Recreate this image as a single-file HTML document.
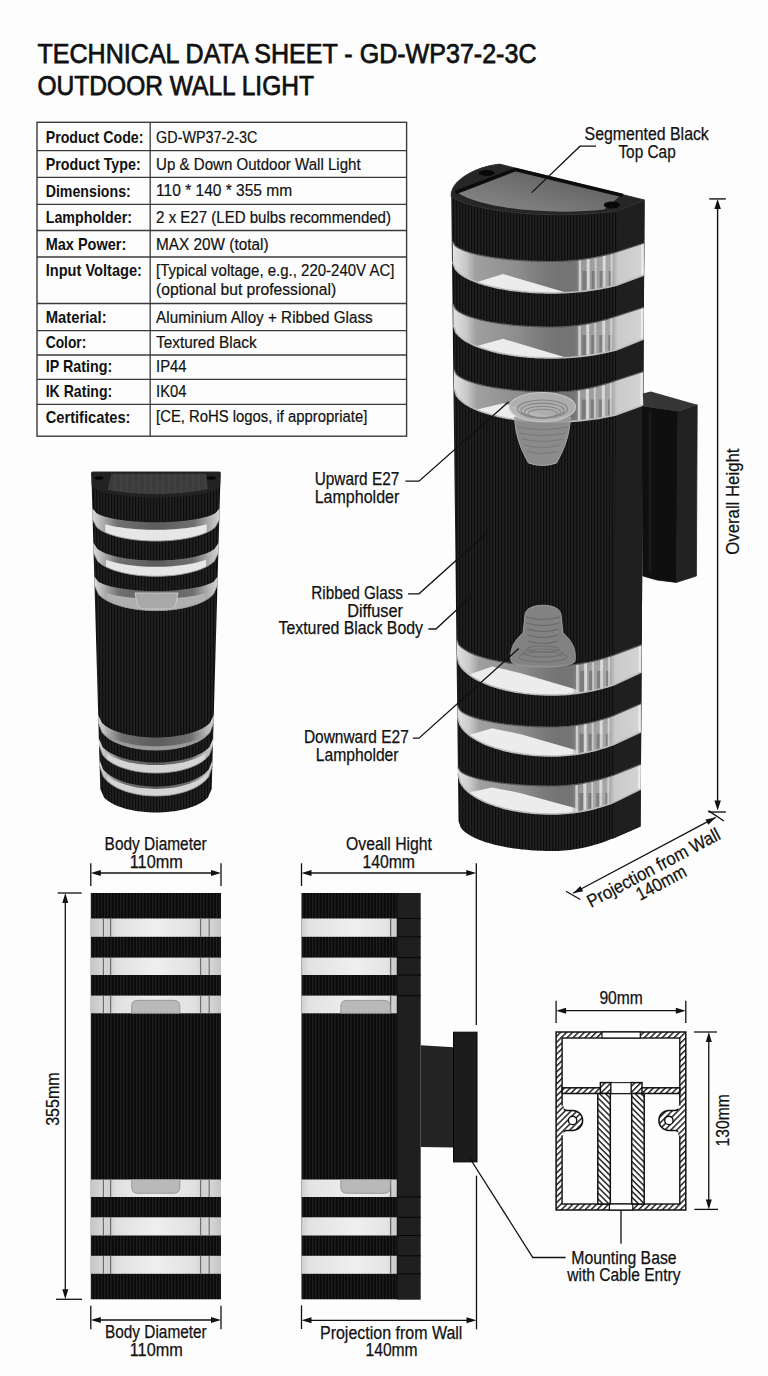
<!DOCTYPE html>
<html><head><meta charset="utf-8"><style>
html,body{margin:0;padding:0;background:#fdfdfd;}
svg{display:block;font-family:"Liberation Sans", sans-serif;}
</style></head><body>
<svg width="768" height="1376" viewBox="0 0 768 1376">
<rect width="768" height="1376" fill="#fdfdfd"/>
<defs>
<pattern id="rib" width="3" height="10" patternUnits="userSpaceOnUse"><rect width="3" height="10" fill="#0e0e0e"/><rect x="1.5" width="1.1" height="10" fill="#2a2a2a"/></pattern>
<pattern id="ribf" width="3.2" height="10" patternUnits="userSpaceOnUse"><rect width="3.2" height="10" fill="#0a0a0a"/><rect x="1.7" width="1" height="10" fill="#232323"/></pattern>
<pattern id="hatch" width="4.2" height="4.2" patternUnits="userSpaceOnUse" patternTransform="rotate(-45)"><rect width="4.2" height="4.2" fill="#fff"/><rect width="4.2" height="1.5" fill="#222"/></pattern>
<pattern id="hatch2" width="4.2" height="4.2" patternUnits="userSpaceOnUse" patternTransform="rotate(45)"><rect width="4.2" height="4.2" fill="#fff"/><rect width="4.2" height="1.5" fill="#222"/></pattern>
<linearGradient id="glassH" x1="0" x2="1" y1="0" y2="0">
 <stop offset="0" stop-color="#c4c4c4"/><stop offset="0.09" stop-color="#d6d6d6"/><stop offset="0.15" stop-color="#d0d0d0"/><stop offset="0.2" stop-color="#e0e0e0"/><stop offset="0.5" stop-color="#efefef"/><stop offset="0.8" stop-color="#e0e0e0"/><stop offset="0.86" stop-color="#d2d2d2"/><stop offset="0.92" stop-color="#d6d6d6"/><stop offset="1" stop-color="#c4c4c4"/></linearGradient>
<linearGradient id="glassS" x1="0" x2="1" y1="0" y2="0">
 <stop offset="0" stop-color="#d0d0d0"/><stop offset="0.08" stop-color="#e2e2e2"/><stop offset="0.55" stop-color="#efefef"/><stop offset="0.9" stop-color="#e4e4e4"/><stop offset="0.93" stop-color="#d4d4d4"/><stop offset="1" stop-color="#c8c8c8"/></linearGradient>
<linearGradient id="bglass" x1="0" x2="1" y1="0" y2="0">
 <stop offset="0" stop-color="#dadada"/><stop offset="0.06" stop-color="#c4c4c4"/><stop offset="0.13" stop-color="#8e8e8e"/><stop offset="0.5" stop-color="#727272"/><stop offset="0.72" stop-color="#7a7a7a"/><stop offset="0.77" stop-color="#b5b5b5"/><stop offset="0.84" stop-color="#9a9a9a"/><stop offset="0.86" stop-color="#d0d0d0"/><stop offset="1" stop-color="#d2d2d2"/></linearGradient>
<linearGradient id="sglass" x1="0" x2="1" y1="0" y2="0">
 <stop offset="0" stop-color="#dcdcdc"/><stop offset="0.07" stop-color="#b4b4b4"/><stop offset="0.2" stop-color="#707070"/><stop offset="0.5" stop-color="#5c5c5c"/><stop offset="0.8" stop-color="#707070"/><stop offset="0.93" stop-color="#b4b4b4"/><stop offset="1" stop-color="#d4d4d4"/></linearGradient>
<linearGradient id="gbL" x1="0" x2="1" y1="0" y2="0">
 <stop offset="0" stop-color="#e2e2e2"/><stop offset="0.07" stop-color="#c8c8c8"/><stop offset="0.12" stop-color="#a0a0a0"/><stop offset="0.35" stop-color="#8c8c8c"/><stop offset="0.55" stop-color="#707070" stop-opacity="0.6"/><stop offset="1" stop-color="#6a6a6a" stop-opacity="0"/></linearGradient>
<linearGradient id="gbR" x1="0" x2="1" y1="0" y2="0">
 <stop offset="0" stop-color="#8a8a8a" stop-opacity="0"/><stop offset="0.12" stop-color="#9a9a9a"/><stop offset="0.55" stop-color="#a8a8a8"/><stop offset="0.62" stop-color="#cacaca"/><stop offset="1" stop-color="#d4d4d4"/></linearGradient>
<linearGradient id="panel" x1="0" x2="1" y1="1" y2="0">
 <stop offset="0" stop-color="#8c8c8c"/><stop offset="0.6" stop-color="#6c6c6c"/><stop offset="1" stop-color="#505050"/></linearGradient>
</defs>
<path d="M499.7,164.1 L644.6,200 L640.6,826.5 L640.6,826.5 L613.1,838.4 L610.0,839.6 L607.0,840.8 L603.9,841.9 L600.9,842.9 L597.8,843.9 L594.8,844.8 L591.7,845.7 L588.7,846.5 L585.6,847.2 L582.5,847.9 L579.5,848.4 L576.4,849.0 L573.4,849.5 L570.3,849.9 L567.3,850.2 L564.2,850.5 L561.2,850.7 L558.1,850.9 L555.1,851.0 L552.0,851.0 L549.7,851.0 L547.3,851.0 L545.0,850.9 L542.6,850.8 L540.3,850.8 L538.0,850.7 L535.6,850.5 L533.3,850.4 L531.0,850.2 L528.6,850.0 L526.3,849.8 L524.0,849.6 L521.6,849.4 L519.3,849.1 L516.9,848.8 L514.6,848.5 L512.3,848.2 L509.9,847.8 L507.6,847.4 L505.2,847.0 L502.9,846.5 L500.6,846.1 L498.2,845.5 L495.9,845.0 L493.6,844.4 L491.2,843.8 L488.9,843.1 L486.6,842.4 L484.2,841.7 L481.9,840.8 L479.5,840.0 L477.2,839.0 L474.9,838.0 L472.5,836.8 L470.2,835.5 L467.9,834.1 L465.5,832.4 L463.2,830.4 L460.8,827.7 L458.5,821.0 L451.25,197 C449,183 472,167 499.7,164.1 Z" fill="url(#rib)"/>
<path d="M617.1,211.0 L644.6,200.0 L640.6,826.5 L613.1,838.4 Z" fill="#1f1f1f"/>
<clipPath id="gb1"><path d="M452.5,241.0 L455.0,245.6 L457.5,247.4 L460.0,248.8 L462.5,249.9 L464.9,250.9 L467.4,251.8 L469.9,252.6 L472.4,253.3 L474.9,254.0 L477.4,254.6 L479.9,255.1 L482.4,255.6 L484.8,256.1 L487.3,256.6 L489.8,257.0 L492.3,257.4 L494.8,257.8 L497.3,258.1 L499.8,258.4 L502.3,258.8 L504.7,259.0 L507.2,259.3 L509.7,259.6 L512.2,259.8 L514.7,260.0 L517.2,260.2 L519.7,260.4 L522.2,260.6 L524.6,260.7 L527.1,260.8 L529.6,261.0 L532.1,261.1 L534.6,261.2 L537.1,261.3 L539.6,261.3 L542.1,261.4 L544.5,261.4 L547.0,261.5 L549.5,261.5 L552.0,261.5 L555.2,261.5 L558.5,261.4 L561.7,261.3 L565.0,261.1 L568.2,260.9 L571.4,260.6 L574.7,260.3 L577.9,260.0 L581.2,259.6 L584.4,259.1 L587.7,258.6 L590.9,258.1 L594.1,257.5 L597.4,256.8 L600.6,256.2 L603.9,255.4 L607.1,254.6 L610.3,253.8 L613.6,252.9 L616.8,252.0 L644.3,243.0 L644.1,275.0 L616.6,285.2 L613.4,286.0 L610.2,286.7 L606.9,287.4 L603.7,288.0 L600.5,288.6 L597.2,289.2 L594.0,289.7 L590.8,290.2 L587.5,290.6 L584.3,291.1 L581.1,291.4 L577.8,291.8 L574.6,292.0 L571.4,292.3 L568.2,292.5 L564.9,292.7 L561.7,292.8 L558.5,292.9 L555.2,293.0 L552.0,293.0 L549.5,293.0 L547.0,293.0 L544.6,292.9 L542.1,292.8 L539.6,292.8 L537.1,292.6 L534.6,292.5 L532.1,292.4 L529.7,292.2 L527.2,292.0 L524.7,291.8 L522.2,291.6 L519.7,291.3 L517.3,291.0 L514.8,290.7 L512.3,290.4 L509.8,290.1 L507.3,289.7 L504.8,289.3 L502.4,288.8 L499.9,288.4 L497.4,287.9 L494.9,287.4 L492.4,286.8 L490.0,286.2 L487.5,285.6 L485.0,284.9 L482.5,284.1 L480.0,283.4 L477.5,282.5 L475.1,281.6 L472.6,280.6 L470.1,279.5 L467.6,278.3 L465.1,277.0 L462.7,275.5 L460.2,273.8 L457.7,271.7 L455.2,268.9 L452.7,262.0 Z"/></clipPath>
<g clip-path="url(#gb1)"><rect x="452.50635930047696" y="239.0" width="191.81888031613647" height="56.0" fill="#7a7a7a"/><rect x="452.50635930047696" y="239.0" width="191.81888031613647" height="56.0" fill="url(#gbL)"/><path d="M478.0,281.7 L503.0,273.9 L566.0,292.6 L562.0,292.8 L558.0,292.9 L554.0,293.0 L550.0,293.0 L546.0,292.9 L542.0,292.8 L538.0,292.7 L534.0,292.5 L530.0,292.2 L526.0,291.9 L522.0,291.5 L518.0,291.1 L514.0,290.6 L510.0,290.1 L506.0,289.5 L502.0,288.8 L498.0,288.0 L494.0,287.2 L490.0,286.2 L486.0,285.2 L482.0,284.0 L478.0,282.7 Z" fill="#ececec"/><rect x="574.6718849840256" y="239.0" width="69.65335463258782" height="56.0" fill="url(#gbR)"/><rect x="582.6718849840256" y="271.0" width="5" height="56.0" fill="#5a5a5a" opacity="0.5"/><rect x="591.6718849840256" y="271.0" width="4" height="56.0" fill="#5a5a5a" opacity="0.5"/><rect x="599.6718849840256" y="271.0" width="6" height="56.0" fill="#5a5a5a" opacity="0.5"/><rect x="608.6718849840256" y="271.0" width="4" height="56.0" fill="#5a5a5a" opacity="0.5"/><rect x="578.6718849840256" y="239.0" width="2.5" height="56.0" fill="#e0e0e0" opacity="0.8"/><rect x="586.6718849840256" y="239.0" width="3" height="56.0" fill="#e8e8e8" opacity="0.8"/><rect x="594.6718849840256" y="239.0" width="2" height="56.0" fill="#d4d4d4" opacity="0.8"/><rect x="602.6718849840256" y="239.0" width="3" height="56.0" fill="#e6e6e6" opacity="0.8"/><rect x="610.6718849840256" y="239.0" width="2" height="56.0" fill="#dcdcdc" opacity="0.8"/><rect x="641.3252396166134" y="239.0" width="2" height="56.0" fill="#f2f2f2" opacity="0.8"/></g>
<path d="M452.5,241.0 L455.0,245.6 L457.5,247.4 L460.0,248.8 L462.5,249.9 L464.9,250.9 L467.4,251.8 L469.9,252.6 L472.4,253.3 L474.9,254.0 L477.4,254.6 L479.9,255.1 L482.4,255.6 L484.8,256.1 L487.3,256.6 L489.8,257.0 L492.3,257.4 L494.8,257.8 L497.3,258.1 L499.8,258.4 L502.3,258.8 L504.7,259.0 L507.2,259.3 L509.7,259.6 L512.2,259.8 L514.7,260.0 L517.2,260.2 L519.7,260.4 L522.2,260.6 L524.6,260.7 L527.1,260.8 L529.6,261.0 L532.1,261.1 L534.6,261.2 L537.1,261.3 L539.6,261.3 L542.1,261.4 L544.5,261.4 L547.0,261.5 L549.5,261.5 L552.0,261.5 L555.2,261.5 L558.5,261.4 L561.7,261.3 L565.0,261.1 L568.2,260.9 L571.4,260.6 L574.7,260.3 L577.9,260.0 L581.2,259.6 L584.4,259.1 L587.7,258.6 L590.9,258.1 L594.1,257.5 L597.4,256.8 L600.6,256.2 L603.9,255.4 L607.1,254.6 L610.3,253.8 L613.6,252.9 L616.8,252.0 L644.3,243.0" fill="none" stroke="#555" stroke-width="1.2"/>
<path d="M452.7,262.0 L455.2,268.9 L457.7,271.7 L460.2,273.8 L462.7,275.5 L465.1,277.0 L467.6,278.3 L470.1,279.5 L472.6,280.6 L475.1,281.6 L477.5,282.5 L480.0,283.4 L482.5,284.1 L485.0,284.9 L487.5,285.6 L490.0,286.2 L492.4,286.8 L494.9,287.4 L497.4,287.9 L499.9,288.4 L502.4,288.8 L504.8,289.3 L507.3,289.7 L509.8,290.1 L512.3,290.4 L514.8,290.7 L517.3,291.0 L519.7,291.3 L522.2,291.6 L524.7,291.8 L527.2,292.0 L529.7,292.2 L532.1,292.4 L534.6,292.5 L537.1,292.6 L539.6,292.8 L542.1,292.8 L544.6,292.9 L547.0,293.0 L549.5,293.0 L552.0,293.0 L555.2,293.0 L558.5,292.9 L561.7,292.8 L564.9,292.7 L568.2,292.5 L571.4,292.3 L574.6,292.0 L577.8,291.8 L581.1,291.4 L584.3,291.1 L587.5,290.6 L590.8,290.2 L594.0,289.7 L597.2,289.2 L600.5,288.6 L603.7,288.0 L606.9,287.4 L610.2,286.7 L613.4,286.0 L616.6,285.2 L644.1,275.0" fill="none" stroke="#bdbdbd" stroke-width="1.6"/>
<clipPath id="gb2"><path d="M453.2,304.0 L455.6,309.1 L458.1,311.2 L460.6,312.7 L463.0,314.0 L465.5,315.1 L468.0,316.1 L470.5,317.0 L472.9,317.8 L475.4,318.5 L477.9,319.2 L480.3,319.8 L482.8,320.4 L485.3,321.0 L487.8,321.5 L490.2,322.0 L492.7,322.4 L495.2,322.8 L497.6,323.2 L500.1,323.6 L502.6,323.9 L505.0,324.2 L507.5,324.5 L510.0,324.8 L512.5,325.1 L514.9,325.3 L517.4,325.5 L519.9,325.8 L522.3,325.9 L524.8,326.1 L527.3,326.3 L529.8,326.4 L532.2,326.5 L534.7,326.6 L537.2,326.7 L539.6,326.8 L542.1,326.9 L544.6,326.9 L547.1,327.0 L549.5,327.0 L552.0,327.0 L555.2,327.0 L558.4,326.9 L561.7,326.8 L564.9,326.6 L568.1,326.3 L571.3,326.0 L574.5,325.7 L577.8,325.3 L581.0,324.8 L584.2,324.3 L587.4,323.8 L590.6,323.1 L593.9,322.5 L597.1,321.8 L600.3,321.0 L603.5,320.2 L606.8,319.3 L610.0,318.3 L613.2,317.3 L616.4,316.3 L643.9,307.3 L643.7,339.0 L616.2,350.0 L613.0,350.8 L609.8,351.5 L606.6,352.2 L603.4,352.9 L600.2,353.5 L596.9,354.1 L593.7,354.6 L590.5,355.1 L587.3,355.6 L584.1,356.0 L580.9,356.4 L577.7,356.7 L574.5,357.0 L571.3,357.3 L568.1,357.5 L564.8,357.7 L561.6,357.8 L558.4,357.9 L555.2,358.0 L552.0,358.0 L549.5,358.0 L547.1,358.0 L544.6,357.9 L542.1,357.8 L539.7,357.7 L537.2,357.6 L534.7,357.5 L532.3,357.3 L529.8,357.2 L527.3,357.0 L524.9,356.7 L522.4,356.5 L519.9,356.2 L517.5,355.9 L515.0,355.6 L512.5,355.2 L510.1,354.9 L507.6,354.5 L505.2,354.0 L502.7,353.6 L500.2,353.1 L497.8,352.6 L495.3,352.0 L492.8,351.4 L490.4,350.8 L487.9,350.1 L485.4,349.3 L483.0,348.6 L480.5,347.7 L478.0,346.8 L475.6,345.9 L473.1,344.8 L470.6,343.6 L468.2,342.4 L465.7,341.0 L463.2,339.4 L460.8,337.5 L458.3,335.3 L455.8,332.3 L453.4,325.0 Z"/></clipPath>
<g clip-path="url(#gb2)"><rect x="453.1573926868044" y="302.0" width="190.7569843100007" height="58.0" fill="#7a7a7a"/><rect x="453.1573926868044" y="302.0" width="190.7569843100007" height="58.0" fill="url(#gbL)"/><path d="M478.0,345.8 L503.0,338.8 L566.0,357.6 L562.0,357.8 L558.0,357.9 L554.0,358.0 L550.0,358.0 L546.0,357.9 L542.0,357.8 L538.0,357.7 L534.0,357.4 L530.0,357.2 L526.0,356.8 L522.0,356.4 L518.0,356.0 L514.0,355.4 L510.0,354.9 L506.0,354.2 L502.0,353.4 L498.0,352.6 L494.0,351.7 L490.0,350.7 L486.0,349.5 L482.0,348.2 L478.0,346.8 Z" fill="#ececec"/><rect x="574.2629392971246" y="302.0" width="69.65143769968051" height="58.0" fill="url(#gbR)"/><rect x="582.2629392971246" y="335.0" width="5" height="58.0" fill="#5a5a5a" opacity="0.5"/><rect x="591.2629392971246" y="335.0" width="4" height="58.0" fill="#5a5a5a" opacity="0.5"/><rect x="599.2629392971246" y="335.0" width="6" height="58.0" fill="#5a5a5a" opacity="0.5"/><rect x="608.2629392971246" y="335.0" width="4" height="58.0" fill="#5a5a5a" opacity="0.5"/><rect x="578.2629392971246" y="302.0" width="2.5" height="58.0" fill="#e0e0e0" opacity="0.8"/><rect x="586.2629392971246" y="302.0" width="3" height="58.0" fill="#e8e8e8" opacity="0.8"/><rect x="594.2629392971246" y="302.0" width="2" height="58.0" fill="#d4d4d4" opacity="0.8"/><rect x="602.2629392971246" y="302.0" width="3" height="58.0" fill="#e6e6e6" opacity="0.8"/><rect x="610.2629392971246" y="302.0" width="2" height="58.0" fill="#dcdcdc" opacity="0.8"/><rect x="640.9143769968051" y="302.0" width="2" height="58.0" fill="#f2f2f2" opacity="0.8"/></g>
<path d="M453.2,304.0 L455.6,309.1 L458.1,311.2 L460.6,312.7 L463.0,314.0 L465.5,315.1 L468.0,316.1 L470.5,317.0 L472.9,317.8 L475.4,318.5 L477.9,319.2 L480.3,319.8 L482.8,320.4 L485.3,321.0 L487.8,321.5 L490.2,322.0 L492.7,322.4 L495.2,322.8 L497.6,323.2 L500.1,323.6 L502.6,323.9 L505.0,324.2 L507.5,324.5 L510.0,324.8 L512.5,325.1 L514.9,325.3 L517.4,325.5 L519.9,325.8 L522.3,325.9 L524.8,326.1 L527.3,326.3 L529.8,326.4 L532.2,326.5 L534.7,326.6 L537.2,326.7 L539.6,326.8 L542.1,326.9 L544.6,326.9 L547.1,327.0 L549.5,327.0 L552.0,327.0 L555.2,327.0 L558.4,326.9 L561.7,326.8 L564.9,326.6 L568.1,326.3 L571.3,326.0 L574.5,325.7 L577.8,325.3 L581.0,324.8 L584.2,324.3 L587.4,323.8 L590.6,323.1 L593.9,322.5 L597.1,321.8 L600.3,321.0 L603.5,320.2 L606.8,319.3 L610.0,318.3 L613.2,317.3 L616.4,316.3 L643.9,307.3" fill="none" stroke="#555" stroke-width="1.2"/>
<path d="M453.4,325.0 L455.8,332.3 L458.3,335.3 L460.8,337.5 L463.2,339.4 L465.7,341.0 L468.2,342.4 L470.6,343.6 L473.1,344.8 L475.6,345.9 L478.0,346.8 L480.5,347.7 L483.0,348.6 L485.4,349.3 L487.9,350.1 L490.4,350.8 L492.8,351.4 L495.3,352.0 L497.8,352.6 L500.2,353.1 L502.7,353.6 L505.2,354.0 L507.6,354.5 L510.1,354.9 L512.5,355.2 L515.0,355.6 L517.5,355.9 L519.9,356.2 L522.4,356.5 L524.9,356.7 L527.3,357.0 L529.8,357.2 L532.3,357.3 L534.7,357.5 L537.2,357.6 L539.7,357.7 L542.1,357.8 L544.6,357.9 L547.1,358.0 L549.5,358.0 L552.0,358.0 L555.2,358.0 L558.4,357.9 L561.6,357.8 L564.8,357.7 L568.1,357.5 L571.3,357.3 L574.5,357.0 L577.7,356.7 L580.9,356.4 L584.1,356.0 L587.3,355.6 L590.5,355.1 L593.7,354.6 L596.9,354.1 L600.2,353.5 L603.4,352.9 L606.6,352.2 L609.8,351.5 L613.0,350.8 L616.2,350.0 L643.7,339.0" fill="none" stroke="#bdbdbd" stroke-width="1.6"/>
<clipPath id="gb3"><path d="M453.8,369.0 L456.3,374.1 L458.7,376.2 L461.2,377.7 L463.6,379.0 L466.1,380.1 L468.6,381.1 L471.0,382.0 L473.5,382.8 L475.9,383.5 L478.4,384.2 L480.8,384.8 L483.3,385.4 L485.7,386.0 L488.2,386.5 L490.6,387.0 L493.1,387.4 L495.6,387.8 L498.0,388.2 L500.5,388.6 L502.9,388.9 L505.4,389.2 L507.8,389.5 L510.3,389.8 L512.7,390.1 L515.2,390.3 L517.6,390.5 L520.1,390.8 L522.5,390.9 L525.0,391.1 L527.5,391.3 L529.9,391.4 L532.4,391.5 L534.8,391.6 L537.3,391.7 L539.7,391.8 L542.2,391.9 L544.6,391.9 L547.1,392.0 L549.5,392.0 L552.0,392.0 L555.2,392.0 L558.4,391.9 L561.6,391.7 L564.8,391.5 L568.0,391.3 L571.2,391.0 L574.4,390.6 L577.6,390.2 L580.8,389.7 L584.0,389.1 L587.2,388.5 L590.4,387.9 L593.6,387.1 L596.8,386.4 L600.0,385.5 L603.2,384.6 L606.4,383.7 L609.6,382.7 L612.8,381.6 L616.0,380.5 L643.5,371.5 L643.3,405.0 L615.8,415.0 L612.6,415.7 L609.4,416.3 L606.2,416.9 L603.0,417.5 L599.8,418.1 L596.7,418.6 L593.5,419.0 L590.3,419.5 L587.1,419.9 L583.9,420.2 L580.7,420.6 L577.5,420.9 L574.3,421.1 L571.1,421.4 L567.9,421.6 L564.8,421.7 L561.6,421.8 L558.4,421.9 L555.2,422.0 L552.0,422.0 L549.6,422.0 L547.1,422.0 L544.7,421.9 L542.2,421.8 L539.8,421.7 L537.3,421.6 L534.9,421.5 L532.4,421.3 L530.0,421.1 L527.5,420.9 L525.1,420.7 L522.6,420.4 L520.2,420.2 L517.7,419.8 L515.3,419.5 L512.8,419.2 L510.4,418.8 L507.9,418.4 L505.5,417.9 L503.0,417.4 L500.6,416.9 L498.1,416.4 L495.7,415.8 L493.2,415.2 L490.8,414.5 L488.3,413.8 L485.9,413.1 L483.4,412.3 L481.0,411.4 L478.5,410.5 L476.1,409.5 L473.6,408.4 L471.2,407.2 L468.7,405.9 L466.3,404.5 L463.8,402.8 L461.4,400.9 L458.9,398.6 L456.5,395.6 L454.0,388.0 Z"/></clipPath>
<g clip-path="url(#gb3)"><rect x="453.829093799682" y="367.0" width="189.67505955495062" height="57.0" fill="#7a7a7a"/><rect x="453.829093799682" y="367.0" width="189.67505955495062" height="57.0" fill="url(#gbL)"/><path d="M478.0,409.3 L503.0,403.2 L566.0,421.7 L562.0,421.8 L558.0,421.9 L554.0,422.0 L550.0,422.0 L546.0,421.9 L542.0,421.8 L538.0,421.6 L534.0,421.4 L530.0,421.1 L526.0,420.8 L522.0,420.4 L518.0,419.9 L514.0,419.3 L510.0,418.7 L506.0,418.0 L502.0,417.2 L498.0,416.4 L494.0,415.4 L490.0,414.3 L486.0,413.1 L482.0,411.8 L478.0,410.3 Z" fill="#ececec"/><rect x="573.8507987220447" y="367.0" width="69.65335463258793" height="57.0" fill="url(#gbR)"/><rect x="581.8507987220447" y="399.5" width="5" height="57.0" fill="#5a5a5a" opacity="0.5"/><rect x="590.8507987220447" y="399.5" width="4" height="57.0" fill="#5a5a5a" opacity="0.5"/><rect x="598.8507987220447" y="399.5" width="6" height="57.0" fill="#5a5a5a" opacity="0.5"/><rect x="607.8507987220447" y="399.5" width="4" height="57.0" fill="#5a5a5a" opacity="0.5"/><rect x="577.8507987220447" y="367.0" width="2.5" height="57.0" fill="#e0e0e0" opacity="0.8"/><rect x="585.8507987220447" y="367.0" width="3" height="57.0" fill="#e8e8e8" opacity="0.8"/><rect x="593.8507987220447" y="367.0" width="2" height="57.0" fill="#d4d4d4" opacity="0.8"/><rect x="601.8507987220447" y="367.0" width="3" height="57.0" fill="#e6e6e6" opacity="0.8"/><rect x="609.8507987220447" y="367.0" width="2" height="57.0" fill="#dcdcdc" opacity="0.8"/><rect x="640.5041533546326" y="367.0" width="2" height="57.0" fill="#f2f2f2" opacity="0.8"/></g>
<path d="M453.8,369.0 L456.3,374.1 L458.7,376.2 L461.2,377.7 L463.6,379.0 L466.1,380.1 L468.6,381.1 L471.0,382.0 L473.5,382.8 L475.9,383.5 L478.4,384.2 L480.8,384.8 L483.3,385.4 L485.7,386.0 L488.2,386.5 L490.6,387.0 L493.1,387.4 L495.6,387.8 L498.0,388.2 L500.5,388.6 L502.9,388.9 L505.4,389.2 L507.8,389.5 L510.3,389.8 L512.7,390.1 L515.2,390.3 L517.6,390.5 L520.1,390.8 L522.5,390.9 L525.0,391.1 L527.5,391.3 L529.9,391.4 L532.4,391.5 L534.8,391.6 L537.3,391.7 L539.7,391.8 L542.2,391.9 L544.6,391.9 L547.1,392.0 L549.5,392.0 L552.0,392.0 L555.2,392.0 L558.4,391.9 L561.6,391.7 L564.8,391.5 L568.0,391.3 L571.2,391.0 L574.4,390.6 L577.6,390.2 L580.8,389.7 L584.0,389.1 L587.2,388.5 L590.4,387.9 L593.6,387.1 L596.8,386.4 L600.0,385.5 L603.2,384.6 L606.4,383.7 L609.6,382.7 L612.8,381.6 L616.0,380.5 L643.5,371.5" fill="none" stroke="#555" stroke-width="1.2"/>
<path d="M454.0,388.0 L456.5,395.6 L458.9,398.6 L461.4,400.9 L463.8,402.8 L466.3,404.5 L468.7,405.9 L471.2,407.2 L473.6,408.4 L476.1,409.5 L478.5,410.5 L481.0,411.4 L483.4,412.3 L485.9,413.1 L488.3,413.8 L490.8,414.5 L493.2,415.2 L495.7,415.8 L498.1,416.4 L500.6,416.9 L503.0,417.4 L505.5,417.9 L507.9,418.4 L510.4,418.8 L512.8,419.2 L515.3,419.5 L517.7,419.8 L520.2,420.2 L522.6,420.4 L525.1,420.7 L527.5,420.9 L530.0,421.1 L532.4,421.3 L534.9,421.5 L537.3,421.6 L539.8,421.7 L542.2,421.8 L544.7,421.9 L547.1,422.0 L549.6,422.0 L552.0,422.0 L555.2,422.0 L558.4,421.9 L561.6,421.8 L564.8,421.7 L567.9,421.6 L571.1,421.4 L574.3,421.1 L577.5,420.9 L580.7,420.6 L583.9,420.2 L587.1,419.9 L590.3,419.5 L593.5,419.0 L596.7,418.6 L599.8,418.1 L603.0,417.5 L606.2,416.9 L609.4,416.3 L612.6,415.7 L615.8,415.0 L643.3,405.0" fill="none" stroke="#bdbdbd" stroke-width="1.6"/>
<clipPath id="gb4"><path d="M456.6,638.7 L459.0,644.8 L461.4,647.2 L463.8,649.1 L466.2,650.6 L468.5,651.9 L470.9,653.1 L473.3,654.1 L475.7,655.1 L478.1,656.0 L480.5,656.8 L482.8,657.5 L485.2,658.2 L487.6,658.8 L490.0,659.4 L492.4,660.0 L494.8,660.5 L497.2,661.0 L499.5,661.5 L501.9,661.9 L504.3,662.3 L506.7,662.7 L509.1,663.1 L511.5,663.4 L513.8,663.7 L516.2,664.0 L518.6,664.3 L521.0,664.5 L523.4,664.7 L525.8,664.9 L528.2,665.1 L530.5,665.3 L532.9,665.4 L535.3,665.6 L537.7,665.7 L540.1,665.8 L542.5,665.9 L544.8,665.9 L547.2,666.0 L549.6,666.0 L552.0,666.0 L555.1,666.0 L558.2,665.9 L561.3,665.8 L564.5,665.6 L567.6,665.3 L570.7,665.0 L573.8,664.6 L576.9,664.2 L580.0,663.8 L583.1,663.2 L586.2,662.6 L589.4,662.0 L592.5,661.3 L595.6,660.6 L598.7,659.8 L601.8,658.9 L604.9,658.0 L608.0,657.0 L611.1,656.0 L614.3,654.9 L641.8,644.6 L641.6,672.0 L614.1,684.8 L611.0,685.8 L607.9,686.7 L604.8,687.6 L601.7,688.5 L598.6,689.3 L595.5,690.0 L592.4,690.7 L589.3,691.3 L586.1,691.9 L583.0,692.4 L579.9,692.9 L576.8,693.4 L573.7,693.8 L570.6,694.1 L567.5,694.4 L564.4,694.6 L561.3,694.8 L558.2,694.9 L555.1,695.0 L552.0,695.0 L549.6,695.0 L547.2,694.9 L544.9,694.9 L542.5,694.8 L540.1,694.7 L537.7,694.5 L535.3,694.4 L533.0,694.2 L530.6,694.0 L528.2,693.7 L525.8,693.5 L523.4,693.2 L521.1,692.8 L518.7,692.5 L516.3,692.1 L513.9,691.7 L511.5,691.2 L509.2,690.7 L506.8,690.2 L504.4,689.6 L502.0,689.0 L499.6,688.4 L497.3,687.7 L494.9,687.0 L492.5,686.2 L490.1,685.4 L487.7,684.5 L485.3,683.6 L483.0,682.5 L480.6,681.5 L478.2,680.3 L475.8,679.0 L473.4,677.6 L471.1,676.1 L468.7,674.4 L466.3,672.4 L463.9,670.2 L461.5,667.5 L459.2,663.9 L456.8,655.0 Z"/></clipPath>
<g clip-path="url(#gb4)"><rect x="456.61613672496026" y="636.7" width="185.14296870634962" height="60.299999999999955" fill="#7a7a7a"/><rect x="456.61613672496026" y="636.7" width="185.14296870634962" height="60.299999999999955" fill="url(#gbL)"/><path d="M470.0,674.3 L492.0,666.5 L520.0,672.9 L585.0,692.1 L581.0,692.8 L577.0,693.3 L573.0,693.8 L569.0,694.2 L565.0,694.5 L561.0,694.8 L557.0,694.9 L553.0,695.0 L549.0,695.0 L545.0,694.9 L541.0,694.7 L537.0,694.5 L533.0,694.2 L529.0,693.8 L525.0,693.4 L521.0,692.8 L517.0,692.2 L513.0,691.5 L509.0,690.7 L505.0,689.8 L501.0,688.8 L497.0,687.6 L493.0,686.4 L489.0,685.0 L485.0,683.4 L481.0,681.6 L477.0,679.6 L473.0,677.3 Z" fill="#ececec"/><rect x="572.1169329073483" y="636.7" width="69.64217252396156" height="60.299999999999955" fill="url(#gbR)"/><rect x="580.1169329073483" y="670.85" width="5" height="60.299999999999955" fill="#5a5a5a" opacity="0.5"/><rect x="589.1169329073483" y="670.85" width="4" height="60.299999999999955" fill="#5a5a5a" opacity="0.5"/><rect x="597.1169329073483" y="670.85" width="6" height="60.299999999999955" fill="#5a5a5a" opacity="0.5"/><rect x="606.1169329073483" y="670.85" width="4" height="60.299999999999955" fill="#5a5a5a" opacity="0.5"/><rect x="576.1169329073483" y="636.7" width="2.5" height="60.299999999999955" fill="#e0e0e0" opacity="0.8"/><rect x="584.1169329073483" y="636.7" width="3" height="60.299999999999955" fill="#e8e8e8" opacity="0.8"/><rect x="592.1169329073483" y="636.7" width="2" height="60.299999999999955" fill="#d4d4d4" opacity="0.8"/><rect x="600.1169329073483" y="636.7" width="3" height="60.299999999999955" fill="#e6e6e6" opacity="0.8"/><rect x="608.1169329073483" y="636.7" width="2" height="60.299999999999955" fill="#dcdcdc" opacity="0.8"/><rect x="638.7591054313099" y="636.7" width="2" height="60.299999999999955" fill="#f2f2f2" opacity="0.8"/></g>
<path d="M456.6,638.7 L459.0,644.8 L461.4,647.2 L463.8,649.1 L466.2,650.6 L468.5,651.9 L470.9,653.1 L473.3,654.1 L475.7,655.1 L478.1,656.0 L480.5,656.8 L482.8,657.5 L485.2,658.2 L487.6,658.8 L490.0,659.4 L492.4,660.0 L494.8,660.5 L497.2,661.0 L499.5,661.5 L501.9,661.9 L504.3,662.3 L506.7,662.7 L509.1,663.1 L511.5,663.4 L513.8,663.7 L516.2,664.0 L518.6,664.3 L521.0,664.5 L523.4,664.7 L525.8,664.9 L528.2,665.1 L530.5,665.3 L532.9,665.4 L535.3,665.6 L537.7,665.7 L540.1,665.8 L542.5,665.9 L544.8,665.9 L547.2,666.0 L549.6,666.0 L552.0,666.0 L555.1,666.0 L558.2,665.9 L561.3,665.8 L564.5,665.6 L567.6,665.3 L570.7,665.0 L573.8,664.6 L576.9,664.2 L580.0,663.8 L583.1,663.2 L586.2,662.6 L589.4,662.0 L592.5,661.3 L595.6,660.6 L598.7,659.8 L601.8,658.9 L604.9,658.0 L608.0,657.0 L611.1,656.0 L614.3,654.9 L641.8,644.6" fill="none" stroke="#555" stroke-width="1.2"/>
<path d="M456.8,655.0 L459.2,663.9 L461.5,667.5 L463.9,670.2 L466.3,672.4 L468.7,674.4 L471.1,676.1 L473.4,677.6 L475.8,679.0 L478.2,680.3 L480.6,681.5 L483.0,682.5 L485.3,683.6 L487.7,684.5 L490.1,685.4 L492.5,686.2 L494.9,687.0 L497.3,687.7 L499.6,688.4 L502.0,689.0 L504.4,689.6 L506.8,690.2 L509.2,690.7 L511.5,691.2 L513.9,691.7 L516.3,692.1 L518.7,692.5 L521.1,692.8 L523.4,693.2 L525.8,693.5 L528.2,693.7 L530.6,694.0 L533.0,694.2 L535.3,694.4 L537.7,694.5 L540.1,694.7 L542.5,694.8 L544.9,694.9 L547.2,694.9 L549.6,695.0 L552.0,695.0 L555.1,695.0 L558.2,694.9 L561.3,694.8 L564.4,694.6 L567.5,694.4 L570.6,694.1 L573.7,693.8 L576.8,693.4 L579.9,692.9 L583.0,692.4 L586.1,691.9 L589.3,691.3 L592.4,690.7 L595.5,690.0 L598.6,689.3 L601.7,688.5 L604.8,687.6 L607.9,686.7 L611.0,685.8 L614.1,684.8 L641.6,672.0" fill="none" stroke="#bdbdbd" stroke-width="1.6"/>
<clipPath id="gb5"><path d="M457.3,705.0 L459.7,709.9 L462.0,711.9 L464.4,713.4 L466.8,714.6 L469.1,715.7 L471.5,716.6 L473.9,717.4 L476.2,718.2 L478.6,718.9 L481.0,719.6 L483.3,720.2 L485.7,720.7 L488.1,721.2 L490.4,721.7 L492.8,722.2 L495.2,722.6 L497.5,723.0 L499.9,723.4 L502.3,723.7 L504.7,724.1 L507.0,724.4 L509.4,724.6 L511.8,724.9 L514.1,725.2 L516.5,725.4 L518.9,725.6 L521.2,725.8 L523.6,726.0 L526.0,726.2 L528.3,726.3 L530.7,726.4 L533.1,726.6 L535.4,726.7 L537.8,726.8 L540.2,726.8 L542.5,726.9 L544.9,726.9 L547.3,727.0 L549.6,727.0 L552.0,727.0 L555.1,727.0 L558.2,726.9 L561.3,726.7 L564.4,726.5 L567.5,726.3 L570.6,726.0 L573.7,725.6 L576.8,725.2 L579.8,724.7 L582.9,724.1 L586.0,723.5 L589.1,722.9 L592.2,722.1 L595.3,721.4 L598.4,720.5 L601.5,719.6 L604.6,718.7 L607.7,717.7 L610.8,716.6 L613.9,715.5 L641.4,703.5 L641.2,731.7 L613.7,744.5 L610.6,745.6 L607.5,746.7 L604.4,747.7 L601.4,748.6 L598.3,749.5 L595.2,750.4 L592.1,751.1 L589.0,751.9 L585.9,752.5 L582.9,753.1 L579.8,753.7 L576.7,754.2 L573.6,754.6 L570.5,755.0 L567.4,755.3 L564.3,755.5 L561.3,755.7 L558.2,755.9 L555.1,756.0 L552.0,756.0 L549.6,756.0 L547.3,755.9 L544.9,755.9 L542.5,755.8 L540.2,755.7 L537.8,755.5 L535.4,755.4 L533.1,755.2 L530.7,755.0 L528.4,754.7 L526.0,754.4 L523.6,754.1 L521.3,753.8 L518.9,753.4 L516.5,753.0 L514.2,752.6 L511.8,752.2 L509.4,751.7 L507.1,751.1 L504.7,750.6 L502.3,750.0 L500.0,749.3 L497.6,748.6 L495.2,747.9 L492.9,747.1 L490.5,746.3 L488.2,745.4 L485.8,744.4 L483.4,743.4 L481.1,742.3 L478.7,741.1 L476.3,739.8 L474.0,738.4 L471.6,736.8 L469.2,735.1 L466.9,733.2 L464.5,730.9 L462.1,728.1 L459.8,724.5 L457.4,715.5 Z"/></clipPath>
<g clip-path="url(#gb5)"><rect x="457.30127186009537" y="701.5" width="184.0814757437385" height="56.5" fill="#7a7a7a"/><rect x="457.30127186009537" y="701.5" width="184.0814757437385" height="56.5" fill="url(#gbL)"/><path d="M470.0,734.7 L492.0,728.2 L520.0,734.1 L585.0,752.7 L581.0,753.5 L577.0,754.1 L573.0,754.7 L569.0,755.1 L565.0,755.5 L561.0,755.8 L557.0,755.9 L553.0,756.0 L549.0,756.0 L545.0,755.9 L541.0,755.7 L537.0,755.5 L533.0,755.2 L529.0,754.8 L525.0,754.3 L521.0,753.8 L517.0,753.1 L513.0,752.4 L509.0,751.6 L505.0,750.6 L501.0,749.6 L497.0,748.4 L493.0,747.2 L489.0,745.7 L485.0,744.1 L481.0,742.3 L477.0,740.2 L473.0,737.8 Z" fill="#ececec"/><rect x="571.7150159744409" y="701.5" width="69.66773162939296" height="56.5" fill="url(#gbR)"/><rect x="579.7150159744409" y="733.75" width="5" height="56.5" fill="#5a5a5a" opacity="0.5"/><rect x="588.7150159744409" y="733.75" width="4" height="56.5" fill="#5a5a5a" opacity="0.5"/><rect x="596.7150159744409" y="733.75" width="6" height="56.5" fill="#5a5a5a" opacity="0.5"/><rect x="605.7150159744409" y="733.75" width="4" height="56.5" fill="#5a5a5a" opacity="0.5"/><rect x="575.7150159744409" y="701.5" width="2.5" height="56.5" fill="#e0e0e0" opacity="0.8"/><rect x="583.7150159744409" y="701.5" width="3" height="56.5" fill="#e8e8e8" opacity="0.8"/><rect x="591.7150159744409" y="701.5" width="2" height="56.5" fill="#d4d4d4" opacity="0.8"/><rect x="599.7150159744409" y="701.5" width="3" height="56.5" fill="#e6e6e6" opacity="0.8"/><rect x="607.7150159744409" y="701.5" width="2" height="56.5" fill="#dcdcdc" opacity="0.8"/><rect x="638.3827476038339" y="701.5" width="2" height="56.5" fill="#f2f2f2" opacity="0.8"/></g>
<path d="M457.3,705.0 L459.7,709.9 L462.0,711.9 L464.4,713.4 L466.8,714.6 L469.1,715.7 L471.5,716.6 L473.9,717.4 L476.2,718.2 L478.6,718.9 L481.0,719.6 L483.3,720.2 L485.7,720.7 L488.1,721.2 L490.4,721.7 L492.8,722.2 L495.2,722.6 L497.5,723.0 L499.9,723.4 L502.3,723.7 L504.7,724.1 L507.0,724.4 L509.4,724.6 L511.8,724.9 L514.1,725.2 L516.5,725.4 L518.9,725.6 L521.2,725.8 L523.6,726.0 L526.0,726.2 L528.3,726.3 L530.7,726.4 L533.1,726.6 L535.4,726.7 L537.8,726.8 L540.2,726.8 L542.5,726.9 L544.9,726.9 L547.3,727.0 L549.6,727.0 L552.0,727.0 L555.1,727.0 L558.2,726.9 L561.3,726.7 L564.4,726.5 L567.5,726.3 L570.6,726.0 L573.7,725.6 L576.8,725.2 L579.8,724.7 L582.9,724.1 L586.0,723.5 L589.1,722.9 L592.2,722.1 L595.3,721.4 L598.4,720.5 L601.5,719.6 L604.6,718.7 L607.7,717.7 L610.8,716.6 L613.9,715.5 L641.4,703.5" fill="none" stroke="#555" stroke-width="1.2"/>
<path d="M457.4,715.5 L459.8,724.5 L462.1,728.1 L464.5,730.9 L466.9,733.2 L469.2,735.1 L471.6,736.8 L474.0,738.4 L476.3,739.8 L478.7,741.1 L481.1,742.3 L483.4,743.4 L485.8,744.4 L488.2,745.4 L490.5,746.3 L492.9,747.1 L495.2,747.9 L497.6,748.6 L500.0,749.3 L502.3,750.0 L504.7,750.6 L507.1,751.1 L509.4,751.7 L511.8,752.2 L514.2,752.6 L516.5,753.0 L518.9,753.4 L521.3,753.8 L523.6,754.1 L526.0,754.4 L528.4,754.7 L530.7,755.0 L533.1,755.2 L535.4,755.4 L537.8,755.5 L540.2,755.7 L542.5,755.8 L544.9,755.9 L547.3,755.9 L549.6,756.0 L552.0,756.0 L555.1,756.0 L558.2,755.9 L561.3,755.7 L564.3,755.5 L567.4,755.3 L570.5,755.0 L573.6,754.6 L576.7,754.2 L579.8,753.7 L582.9,753.1 L585.9,752.5 L589.0,751.9 L592.1,751.1 L595.2,750.4 L598.3,749.5 L601.4,748.6 L604.4,747.7 L607.5,746.7 L610.6,745.6 L613.7,744.5 L641.2,731.7" fill="none" stroke="#bdbdbd" stroke-width="1.6"/>
<clipPath id="gb6"><path d="M457.9,767.0 L460.3,771.2 L462.6,772.9 L465.0,774.2 L467.3,775.3 L469.7,776.2 L472.1,777.0 L474.4,777.7 L476.8,778.4 L479.1,779.0 L481.5,779.6 L483.8,780.1 L486.2,780.6 L488.5,781.0 L490.9,781.4 L493.2,781.8 L495.6,782.2 L497.9,782.5 L500.3,782.9 L502.6,783.2 L505.0,783.5 L507.3,783.7 L509.7,784.0 L512.0,784.2 L514.4,784.4 L516.7,784.6 L519.1,784.8 L521.4,785.0 L523.8,785.1 L526.1,785.3 L528.5,785.4 L530.8,785.5 L533.2,785.6 L535.5,785.7 L537.9,785.8 L540.2,785.9 L542.6,785.9 L544.9,785.9 L547.3,786.0 L549.6,786.0 L552.0,786.0 L555.1,786.0 L558.1,785.9 L561.2,785.8 L564.3,785.6 L567.4,785.3 L570.4,785.0 L573.5,784.7 L576.6,784.3 L579.7,783.8 L582.7,783.3 L585.8,782.7 L588.9,782.1 L592.0,781.4 L595.0,780.7 L598.1,779.9 L601.2,779.1 L604.3,778.2 L607.3,777.3 L610.4,776.3 L613.5,775.2 L641.0,764.1 L640.8,789.0 L613.3,802.6 L610.3,803.7 L607.2,804.8 L604.1,805.8 L601.1,806.7 L598.0,807.6 L594.9,808.4 L591.9,809.2 L588.8,809.9 L585.7,810.6 L582.7,811.1 L579.6,811.7 L576.5,812.2 L573.5,812.6 L570.4,813.0 L567.3,813.3 L564.3,813.5 L561.2,813.7 L558.1,813.9 L555.1,814.0 L552.0,814.0 L549.7,814.0 L547.3,813.9 L545.0,813.9 L542.6,813.8 L540.3,813.7 L537.9,813.5 L535.6,813.4 L533.2,813.2 L530.9,813.0 L528.5,812.7 L526.2,812.4 L523.8,812.1 L521.5,811.8 L519.1,811.4 L516.8,811.0 L514.4,810.6 L512.1,810.2 L509.7,809.7 L507.4,809.1 L505.0,808.6 L502.7,808.0 L500.3,807.3 L498.0,806.6 L495.6,805.9 L493.3,805.1 L490.9,804.3 L488.6,803.4 L486.2,802.4 L483.9,801.4 L481.5,800.3 L479.2,799.1 L476.8,797.8 L474.5,796.4 L472.1,794.8 L469.8,793.1 L467.4,791.2 L465.1,788.9 L462.7,786.1 L460.4,782.5 L458.0,773.5 Z"/></clipPath>
<g clip-path="url(#gb6)"><rect x="457.94197138314786" y="762.1" width="183.05355577340168" height="53.89999999999998" fill="#7a7a7a"/><rect x="457.94197138314786" y="762.1" width="183.05355577340168" height="53.89999999999998" fill="url(#gbL)"/><path d="M470.0,792.3 L492.0,787.4 L520.0,792.9 L585.0,810.7 L581.0,811.4 L577.0,812.1 L573.0,812.7 L569.0,813.1 L565.0,813.5 L561.0,813.8 L557.0,813.9 L553.0,814.0 L549.0,814.0 L545.0,813.9 L541.0,813.7 L537.0,813.5 L533.0,813.2 L529.0,812.8 L525.0,812.3 L521.0,811.7 L517.0,811.1 L513.0,810.3 L509.0,809.5 L505.0,808.6 L501.0,807.5 L497.0,806.3 L493.0,805.0 L489.0,803.6 L485.0,801.9 L481.0,800.0 L477.0,797.9 L473.0,795.4 Z" fill="#ececec"/><rect x="571.3361022364218" y="762.1" width="69.65942492012778" height="53.89999999999998" fill="url(#gbR)"/><rect x="579.3361022364218" y="793.05" width="5" height="53.89999999999998" fill="#5a5a5a" opacity="0.5"/><rect x="588.3361022364218" y="793.05" width="4" height="53.89999999999998" fill="#5a5a5a" opacity="0.5"/><rect x="596.3361022364218" y="793.05" width="6" height="53.89999999999998" fill="#5a5a5a" opacity="0.5"/><rect x="605.3361022364218" y="793.05" width="4" height="53.89999999999998" fill="#5a5a5a" opacity="0.5"/><rect x="575.3361022364218" y="762.1" width="2.5" height="53.89999999999998" fill="#e0e0e0" opacity="0.8"/><rect x="583.3361022364218" y="762.1" width="3" height="53.89999999999998" fill="#e8e8e8" opacity="0.8"/><rect x="591.3361022364218" y="762.1" width="2" height="53.89999999999998" fill="#d4d4d4" opacity="0.8"/><rect x="599.3361022364218" y="762.1" width="3" height="53.89999999999998" fill="#e6e6e6" opacity="0.8"/><rect x="607.3361022364218" y="762.1" width="2" height="53.89999999999998" fill="#dcdcdc" opacity="0.8"/><rect x="637.9955271565495" y="762.1" width="2" height="53.89999999999998" fill="#f2f2f2" opacity="0.8"/></g>
<path d="M457.9,767.0 L460.3,771.2 L462.6,772.9 L465.0,774.2 L467.3,775.3 L469.7,776.2 L472.1,777.0 L474.4,777.7 L476.8,778.4 L479.1,779.0 L481.5,779.6 L483.8,780.1 L486.2,780.6 L488.5,781.0 L490.9,781.4 L493.2,781.8 L495.6,782.2 L497.9,782.5 L500.3,782.9 L502.6,783.2 L505.0,783.5 L507.3,783.7 L509.7,784.0 L512.0,784.2 L514.4,784.4 L516.7,784.6 L519.1,784.8 L521.4,785.0 L523.8,785.1 L526.1,785.3 L528.5,785.4 L530.8,785.5 L533.2,785.6 L535.5,785.7 L537.9,785.8 L540.2,785.9 L542.6,785.9 L544.9,785.9 L547.3,786.0 L549.6,786.0 L552.0,786.0 L555.1,786.0 L558.1,785.9 L561.2,785.8 L564.3,785.6 L567.4,785.3 L570.4,785.0 L573.5,784.7 L576.6,784.3 L579.7,783.8 L582.7,783.3 L585.8,782.7 L588.9,782.1 L592.0,781.4 L595.0,780.7 L598.1,779.9 L601.2,779.1 L604.3,778.2 L607.3,777.3 L610.4,776.3 L613.5,775.2 L641.0,764.1" fill="none" stroke="#555" stroke-width="1.2"/>
<path d="M458.0,773.5 L460.4,782.5 L462.7,786.1 L465.1,788.9 L467.4,791.2 L469.8,793.1 L472.1,794.8 L474.5,796.4 L476.8,797.8 L479.2,799.1 L481.5,800.3 L483.9,801.4 L486.2,802.4 L488.6,803.4 L490.9,804.3 L493.3,805.1 L495.6,805.9 L498.0,806.6 L500.3,807.3 L502.7,808.0 L505.0,808.6 L507.4,809.1 L509.7,809.7 L512.1,810.2 L514.4,810.6 L516.8,811.0 L519.1,811.4 L521.5,811.8 L523.8,812.1 L526.2,812.4 L528.5,812.7 L530.9,813.0 L533.2,813.2 L535.6,813.4 L537.9,813.5 L540.3,813.7 L542.6,813.8 L545.0,813.9 L547.3,813.9 L549.7,814.0 L552.0,814.0 L555.1,814.0 L558.1,813.9 L561.2,813.7 L564.3,813.5 L567.3,813.3 L570.4,813.0 L573.5,812.6 L576.5,812.2 L579.6,811.7 L582.7,811.1 L585.7,810.6 L588.8,809.9 L591.9,809.2 L594.9,808.4 L598.0,807.6 L601.1,806.7 L604.1,805.8 L607.2,804.8 L610.3,803.7 L613.3,802.6 L640.8,789.0" fill="none" stroke="#bdbdbd" stroke-width="1.6"/>
<path d="M499.7,164.1 L644.6,200 L617.1,211 C560,219 480,214 451.25,197 C449,183 472,167 499.7,164.1 Z" fill="#262626" stroke="#3a3a3a" stroke-width="0.8"/>
<path d="M457.4,192.8 L515.3,170.6 L620,196 L604,209.5 C555,215 485,210 457.4,192.8 Z" fill="url(#panel)"/>
<path d="M455.5,192.5 L515.3,169.5 L623,195.5" fill="none" stroke="#0c0c0c" stroke-width="3.5"/>
<ellipse cx="486.7" cy="173" rx="8" ry="3" fill="#080808"/>
<ellipse cx="611.8" cy="205" rx="8" ry="3.4" fill="#080808"/>
<path d="M514.5,417 C515.5,433 518.5,445 528.5,463 Q542.5,468 556.5,463 C566.5,445 569.5,433 570.5,417 Z" fill="#9c9c9c" fill-opacity="0.88" stroke="#a8a8a8" stroke-width="1"/>
<path d="M516.5,427 Q542.5,432 568.5,427" fill="none" stroke="#7a7a7a" stroke-width="1.1"/>
<path d="M519.1,433 Q542.5,438 565.9,433" fill="none" stroke="#7a7a7a" stroke-width="1.1"/>
<path d="M521.7,439 Q542.5,444 563.3,439" fill="none" stroke="#7a7a7a" stroke-width="1.1"/>
<path d="M524.3,445 Q542.5,450 560.7,445" fill="none" stroke="#7a7a7a" stroke-width="1.1"/>
<path d="M526.9,451 Q542.5,456 558.1,451" fill="none" stroke="#7a7a7a" stroke-width="1.1"/>
<ellipse cx="542.5" cy="407" rx="33" ry="14.5" fill="#b2b2b2" fill-opacity="0.92" stroke="#c6c6c6" stroke-width="1.2"/>
<ellipse cx="542.5" cy="409.0" rx="25.0" ry="9.0" fill="none" stroke="#868686" stroke-width="1.1"/>
<ellipse cx="542.5" cy="410.5" rx="21.5" ry="7.4" fill="none" stroke="#868686" stroke-width="1.1"/>
<ellipse cx="542.5" cy="412.0" rx="18.0" ry="5.8" fill="none" stroke="#868686" stroke-width="1.1"/>
<ellipse cx="542.5" cy="413.5" rx="14.5" ry="4.199999999999999" fill="none" stroke="#868686" stroke-width="1.1"/>
<path d="M525,615 C525,602 561,602 561,615 L563,633 C575,643 576,653 575,661 C573,669 513,669 511,661 C510,653 511,643 523,633 Z" fill="#8e8e8e" fill-opacity="0.9" stroke="#9a9a9a" stroke-width="1"/>
<path d="M526.0,617 Q543,622 560.0,617" fill="none" stroke="#6a6a6a" stroke-width="1.2"/>
<path d="M526.5,623 Q543,628 559.5,623" fill="none" stroke="#6a6a6a" stroke-width="1.2"/>
<path d="M527.0,629 Q543,634 559.0,629" fill="none" stroke="#6a6a6a" stroke-width="1.2"/>
<path d="M527.5,635 Q543,640 558.5,635" fill="none" stroke="#6a6a6a" stroke-width="1.2"/>
<path d="M528.0,641 Q543,646 558.0,641" fill="none" stroke="#6a6a6a" stroke-width="1.2"/>
<ellipse cx="543" cy="657" rx="24" ry="5" fill="none" stroke="#707070" stroke-width="1.1"/>
<ellipse cx="543" cy="653" rx="20" ry="4" fill="none" stroke="#707070" stroke-width="1.1"/>
<ellipse cx="543" cy="649" rx="16" ry="3" fill="none" stroke="#707070" stroke-width="1.1"/>
<path d="M642.8,406.0 L678.0,411.2 L676.4,582.4 L657.0,580.0 L642.8,576.0 Z" fill="#0f0f0f" stroke="#0f0f0f" stroke-width="0.8"/>
<path d="M678.0,411.2 L697.2,404.8 L696.4,576.0 L676.4,582.4 Z" fill="#222" stroke="#222" stroke-width="0.8"/>
<path d="M642.8,393.6 L650.8,391.5 L697.2,404.8 L678.0,411.2 L643.6,406.4 Z" fill="#363636"/>
<path d="M650,412 L650,572" stroke="#1a1a1a" stroke-width="3"/>
<path d="M91.3,472.5 L92.3,471.7 L219.6,471.7 L220.6,472.5 L211.7,789.0 L208.0,797.4 L204.3,800.7 L200.6,803.1 L196.8,805.0 L193.1,806.5 L189.4,807.8 L185.7,808.9 L182.0,809.8 L178.3,810.5 L174.6,811.2 L170.9,811.6 L167.1,812.0 L163.4,812.3 L159.7,812.4 L156.0,812.5 L152.3,812.4 L148.6,812.3 L144.9,812.0 L141.1,811.6 L137.4,811.2 L133.7,810.5 L130.0,809.8 L126.3,808.9 L122.6,807.8 L118.9,806.5 L115.1,805.0 L111.4,803.1 L107.7,800.7 L104.0,797.4 L100.3,789.0 Z" fill="url(#rib)"/>
<path d="M92.3,508.3 L96.6,513.3 L100.8,515.3 L105.1,516.7 L109.3,517.8 L113.5,518.7 L117.8,519.5 L122.0,520.1 L126.3,520.7 L130.5,521.1 L134.7,521.5 L139.0,521.8 L143.2,522.0 L147.5,522.2 L151.7,522.3 L156.0,522.3 L160.2,522.3 L164.4,522.2 L168.7,522.0 L172.9,521.8 L177.2,521.5 L181.4,521.1 L185.6,520.7 L189.9,520.1 L194.1,519.5 L198.4,518.7 L202.6,517.8 L206.9,516.7 L211.1,515.3 L215.3,513.3 L219.6,508.3 L219.3,519.8 L215.0,527.4 L210.8,530.4 L206.6,532.5 L202.4,534.2 L198.2,535.6 L193.9,536.8 L189.7,537.7 L185.5,538.5 L181.3,539.2 L177.1,539.8 L172.8,540.2 L168.6,540.6 L164.4,540.8 L160.2,541.0 L156.0,541.0 L151.7,541.0 L147.5,540.8 L143.3,540.6 L139.1,540.2 L134.9,539.8 L130.6,539.2 L126.4,538.5 L122.2,537.7 L118.0,536.8 L113.8,535.6 L109.5,534.2 L105.3,532.5 L101.1,530.4 L96.9,527.4 L92.7,519.8 Z" fill="url(#sglass)"/>
<path d="M105.1,524.2 L109.3,525.3 L113.5,526.2 L117.8,527.0 L122.0,527.6 L126.3,528.2 L130.5,528.6 L134.7,529.0 L139.0,529.3 L143.2,529.5 L147.5,529.7 L151.7,529.7 L156.0,529.8 L160.2,529.7 L164.4,529.7 L168.7,529.5 L172.9,529.3 L177.2,529.0 L181.4,528.6 L185.6,528.2 L189.9,527.6 L194.1,527.0 L198.4,526.2 L202.6,525.3 L206.9,524.2 L206.6,532.5 L202.4,534.2 L198.2,535.6 L193.9,536.8 L189.7,537.7 L185.5,538.5 L181.3,539.2 L177.1,539.8 L172.8,540.2 L168.6,540.6 L164.4,540.8 L160.2,541.0 L156.0,541.0 L151.7,541.0 L147.5,540.8 L143.3,540.6 L139.1,540.2 L134.9,539.8 L130.6,539.2 L126.4,538.5 L122.2,537.7 L118.0,536.8 L113.8,535.6 L109.5,534.2 L105.3,532.5 Z" fill="#e6e6e6"/>
<path d="M92.7,519.8 L96.9,527.4 L101.1,530.4 L105.3,532.5 L109.5,534.2 L113.8,535.6 L118.0,536.8 L122.2,537.7 L126.4,538.5 L130.6,539.2 L134.9,539.8 L139.1,540.2 L143.3,540.6 L147.5,540.8 L151.7,541.0 L156.0,541.0 L160.2,541.0 L164.4,540.8 L168.6,540.6 L172.8,540.2 L177.1,539.8 L181.3,539.2 L185.5,538.5 L189.7,537.7 L193.9,536.8 L198.2,535.6 L202.4,534.2 L206.6,532.5 L210.8,530.4 L215.0,527.4 L219.3,519.8" fill="none" stroke="#9a9a9a" stroke-width="0.9"/>
<path d="M93.3,542.7 L97.5,549.1 L101.7,551.6 L105.8,553.4 L110.0,554.8 L114.2,556.0 L118.4,556.9 L122.5,557.8 L126.7,558.4 L130.9,559.0 L135.1,559.5 L139.3,559.9 L143.4,560.1 L147.6,560.3 L151.8,560.5 L156.0,560.5 L160.1,560.5 L164.3,560.3 L168.5,560.1 L172.7,559.9 L176.8,559.5 L181.0,559.0 L185.2,558.4 L189.4,557.8 L193.6,556.9 L197.7,556.0 L201.9,554.8 L206.1,553.4 L210.3,551.6 L214.4,549.1 L218.6,542.7 L218.3,553.0 L214.2,561.4 L210.0,564.6 L205.9,567.0 L201.7,568.8 L197.5,570.4 L193.4,571.6 L189.2,572.7 L185.1,573.6 L180.9,574.4 L176.8,575.0 L172.6,575.5 L168.4,575.8 L164.3,576.1 L160.1,576.2 L156.0,576.3 L151.8,576.2 L147.6,576.1 L143.5,575.8 L139.3,575.5 L135.2,575.0 L131.0,574.4 L126.9,573.6 L122.7,572.7 L118.5,571.6 L114.4,570.4 L110.2,568.8 L106.1,567.0 L101.9,564.6 L97.8,561.4 L93.6,553.0 Z" fill="url(#sglass)"/>
<path d="M105.8,559.7 L110.0,561.1 L114.2,562.3 L118.4,563.3 L122.5,564.1 L126.7,564.8 L130.9,565.3 L135.1,565.8 L139.3,566.2 L143.4,566.5 L147.6,566.7 L151.8,566.8 L156.0,566.8 L160.1,566.8 L164.3,566.7 L168.5,566.5 L172.7,566.2 L176.8,565.8 L181.0,565.3 L185.2,564.8 L189.4,564.1 L193.6,563.3 L197.7,562.3 L201.9,561.1 L206.1,559.7 L205.9,567.0 L201.7,568.8 L197.5,570.4 L193.4,571.6 L189.2,572.7 L185.1,573.6 L180.9,574.4 L176.8,575.0 L172.6,575.5 L168.4,575.8 L164.3,576.1 L160.1,576.2 L156.0,576.3 L151.8,576.2 L147.6,576.1 L143.5,575.8 L139.3,575.5 L135.2,575.0 L131.0,574.4 L126.9,573.6 L122.7,572.7 L118.5,571.6 L114.4,570.4 L110.2,568.8 L106.1,567.0 Z" fill="#e6e6e6"/>
<path d="M93.6,553.0 L97.8,561.4 L101.9,564.6 L106.1,567.0 L110.2,568.8 L114.4,570.4 L118.5,571.6 L122.7,572.7 L126.9,573.6 L131.0,574.4 L135.2,575.0 L139.3,575.5 L143.5,575.8 L147.6,576.1 L151.8,576.2 L156.0,576.3 L160.1,576.2 L164.3,576.1 L168.4,575.8 L172.6,575.5 L176.8,575.0 L180.9,574.4 L185.1,573.6 L189.2,572.7 L193.4,571.6 L197.5,570.4 L201.7,568.8 L205.9,567.0 L210.0,564.6 L214.2,561.4 L218.3,553.0" fill="none" stroke="#9a9a9a" stroke-width="0.9"/>
<path d="M94.3,576.6 L98.4,581.8 L102.5,583.8 L106.6,585.2 L110.7,586.4 L114.8,587.3 L118.9,588.1 L123.1,588.8 L127.2,589.3 L131.3,589.8 L135.4,590.2 L139.5,590.5 L143.6,590.7 L147.7,590.9 L151.9,591.0 L156.0,591.0 L160.1,591.0 L164.2,590.9 L168.3,590.7 L172.4,590.5 L176.5,590.2 L180.6,589.8 L184.8,589.3 L188.9,588.8 L193.0,588.1 L197.1,587.3 L201.2,586.4 L205.3,585.2 L209.4,583.8 L213.6,581.8 L217.7,576.6 L217.4,585.4 L213.3,594.4 L209.2,598.0 L205.1,600.5 L201.0,602.5 L196.9,604.2 L192.8,605.6 L188.7,606.7 L184.6,607.7 L180.5,608.5 L176.4,609.2 L172.4,609.7 L168.3,610.1 L164.2,610.4 L160.1,610.5 L156.0,610.6 L151.9,610.5 L147.8,610.4 L143.7,610.1 L139.6,609.7 L135.5,609.2 L131.4,608.5 L127.3,607.7 L123.2,606.7 L119.1,605.6 L115.0,604.2 L110.9,602.5 L106.8,600.5 L102.7,598.0 L98.6,594.4 L94.5,585.4 Z" fill="url(#sglass)"/>
<path d="M106.6,593.1 L110.7,594.2 L114.8,595.2 L118.9,596.0 L123.1,596.6 L127.2,597.2 L131.3,597.6 L135.4,598.0 L139.5,598.3 L143.6,598.5 L147.7,598.7 L151.9,598.8 L156.0,598.8 L160.1,598.8 L164.2,598.7 L168.3,598.5 L172.4,598.3 L176.5,598.0 L180.6,597.6 L184.8,597.2 L188.9,596.6 L193.0,596.0 L197.1,595.2 L201.2,594.2 L205.3,593.1 L205.1,600.5 L201.0,602.5 L196.9,604.2 L192.8,605.6 L188.7,606.7 L184.6,607.7 L180.5,608.5 L176.4,609.2 L172.4,609.7 L168.3,610.1 L164.2,610.4 L160.1,610.5 L156.0,610.6 L151.9,610.5 L147.8,610.4 L143.7,610.1 L139.6,609.7 L135.5,609.2 L131.4,608.5 L127.3,607.7 L123.2,606.7 L119.1,605.6 L115.0,604.2 L110.9,602.5 L106.8,600.5 Z" fill="#b0b0b0"/>
<path d="M94.5,585.4 L98.6,594.4 L102.7,598.0 L106.8,600.5 L110.9,602.5 L115.0,604.2 L119.1,605.6 L123.2,606.7 L127.3,607.7 L131.4,608.5 L135.5,609.2 L139.6,609.7 L143.7,610.1 L147.8,610.4 L151.9,610.5 L156.0,610.6 L160.1,610.5 L164.2,610.4 L168.3,610.1 L172.4,609.7 L176.4,609.2 L180.5,608.5 L184.6,607.7 L188.7,606.7 L192.8,605.6 L196.9,604.2 L201.0,602.5 L205.1,600.5 L209.2,598.0 L213.3,594.4 L217.4,585.4" fill="none" stroke="#9a9a9a" stroke-width="0.9"/>
<path d="M98.2,715.0 L102.0,723.1 L105.9,726.2 L109.8,728.5 L113.6,730.3 L117.5,731.8 L121.3,733.0 L125.2,734.0 L129.0,734.9 L132.9,735.6 L136.7,736.2 L140.6,736.7 L144.4,737.0 L148.3,737.3 L152.1,737.4 L156.0,737.5 L159.8,737.4 L163.7,737.3 L167.5,737.0 L171.4,736.7 L175.2,736.2 L179.1,735.6 L183.0,734.9 L186.8,734.0 L190.7,733.0 L194.5,731.8 L198.4,730.3 L202.2,728.5 L206.1,726.2 L209.9,723.1 L213.8,715.0 L213.6,723.0 L209.7,732.7 L205.9,736.5 L202.0,739.2 L198.2,741.4 L194.4,743.1 L190.5,744.6 L186.7,745.8 L182.9,746.9 L179.0,747.7 L175.2,748.5 L171.3,749.0 L167.5,749.5 L163.7,749.8 L159.8,749.9 L156.0,750.0 L152.1,749.9 L148.3,749.8 L144.5,749.5 L140.6,749.0 L136.8,748.5 L133.0,747.7 L129.1,746.9 L125.3,745.8 L121.4,744.6 L117.6,743.1 L113.8,741.4 L109.9,739.2 L106.1,736.5 L102.3,732.7 L98.4,723.0 Z" fill="url(#sglass)"/>
<path d="M105.9,735.0 L109.8,737.2 L113.6,739.0 L117.5,740.5 L121.3,741.8 L125.2,742.8 L129.0,743.6 L132.9,744.4 L136.7,745.0 L140.6,745.4 L144.4,745.8 L148.3,746.0 L152.1,746.2 L156.0,746.2 L159.8,746.2 L163.7,746.0 L167.5,745.8 L171.4,745.4 L175.2,745.0 L179.1,744.4 L183.0,743.6 L186.8,742.8 L190.7,741.8 L194.5,740.5 L198.4,739.0 L202.2,737.2 L206.1,735.0 L205.9,736.5 L202.0,739.2 L198.2,741.4 L194.4,743.1 L190.5,744.6 L186.7,745.8 L182.9,746.9 L179.0,747.7 L175.2,748.5 L171.3,749.0 L167.5,749.5 L163.7,749.8 L159.8,749.9 L156.0,750.0 L152.1,749.9 L148.3,749.8 L144.5,749.5 L140.6,749.0 L136.8,748.5 L133.0,747.7 L129.1,746.9 L125.3,745.8 L121.4,744.6 L117.6,743.1 L113.8,741.4 L109.9,739.2 L106.1,736.5 Z" fill="#9a9a9a"/>
<path d="M98.4,723.0 L102.3,732.7 L106.1,736.5 L109.9,739.2 L113.8,741.4 L117.6,743.1 L121.4,744.6 L125.3,745.8 L129.1,746.9 L133.0,747.7 L136.8,748.5 L140.6,749.0 L144.5,749.5 L148.3,749.8 L152.1,749.9 L156.0,750.0 L159.8,749.9 L163.7,749.8 L167.5,749.5 L171.3,749.0 L175.2,748.5 L179.0,747.7 L182.9,746.9 L186.7,745.8 L190.5,744.6 L194.4,743.1 L198.2,741.4 L202.0,739.2 L205.9,736.5 L209.7,732.7 L213.6,723.0" fill="none" stroke="#9a9a9a" stroke-width="0.9"/>
<path d="M98.9,738.6 L102.7,747.2 L106.5,750.5 L110.3,752.9 L114.1,754.8 L117.9,756.4 L121.7,757.7 L125.5,758.8 L129.3,759.7 L133.1,760.5 L136.9,761.1 L140.8,761.6 L144.6,762.0 L148.4,762.3 L152.2,762.4 L156.0,762.5 L159.8,762.4 L163.6,762.3 L167.4,762.0 L171.2,761.6 L175.0,761.1 L178.8,760.5 L182.6,759.7 L186.5,758.8 L190.3,757.7 L194.1,756.4 L197.9,754.8 L201.7,752.9 L205.5,750.5 L209.3,747.2 L213.1,738.6 L212.9,745.4 L209.1,755.3 L205.3,759.2 L201.5,762.0 L197.7,764.2 L193.9,766.0 L190.2,767.5 L186.4,768.7 L182.6,769.8 L178.8,770.7 L175.0,771.4 L171.2,772.0 L167.4,772.4 L163.6,772.8 L159.8,772.9 L156.0,773.0 L152.2,772.9 L148.4,772.8 L144.6,772.4 L140.8,772.0 L137.0,771.4 L133.2,770.7 L129.4,769.8 L125.6,768.7 L121.8,767.5 L118.0,766.0 L114.2,764.2 L110.4,762.0 L106.6,759.2 L102.9,755.3 L99.1,745.4 Z" fill="url(#sglass)"/>
<path d="M106.5,753.1 L110.3,755.6 L114.1,757.5 L117.9,759.0 L121.7,760.3 L125.5,761.4 L129.3,762.4 L133.1,763.1 L136.9,763.8 L140.8,764.3 L144.6,764.6 L148.4,764.9 L152.2,765.1 L156.0,765.1 L159.8,765.1 L163.6,764.9 L167.4,764.6 L171.2,764.3 L175.0,763.8 L178.8,763.1 L182.6,762.4 L186.5,761.4 L190.3,760.3 L194.1,759.0 L197.9,757.5 L201.7,755.6 L205.5,753.1 L205.3,759.2 L201.5,762.0 L197.7,764.2 L193.9,766.0 L190.2,767.5 L186.4,768.7 L182.6,769.8 L178.8,770.7 L175.0,771.4 L171.2,772.0 L167.4,772.4 L163.6,772.8 L159.8,772.9 L156.0,773.0 L152.2,772.9 L148.4,772.8 L144.6,772.4 L140.8,772.0 L137.0,771.4 L133.2,770.7 L129.4,769.8 L125.6,768.7 L121.8,767.5 L118.0,766.0 L114.2,764.2 L110.4,762.0 L106.6,759.2 Z" fill="#d4d4d4"/>
<path d="M99.1,745.4 L102.9,755.3 L106.6,759.2 L110.4,762.0 L114.2,764.2 L118.0,766.0 L121.8,767.5 L125.6,768.7 L129.4,769.8 L133.2,770.7 L137.0,771.4 L140.8,772.0 L144.6,772.4 L148.4,772.8 L152.2,772.9 L156.0,773.0 L159.8,772.9 L163.6,772.8 L167.4,772.4 L171.2,772.0 L175.0,771.4 L178.8,770.7 L182.6,769.8 L186.4,768.7 L190.2,767.5 L193.9,766.0 L197.7,764.2 L201.5,762.0 L205.3,759.2 L209.1,755.3 L212.9,745.4" fill="none" stroke="#9a9a9a" stroke-width="0.9"/>
<path d="M99.5,760.0 L103.2,769.5 L107.0,773.2 L110.8,775.9 L114.5,778.0 L118.3,779.8 L122.1,781.2 L125.8,782.4 L129.6,783.4 L133.4,784.3 L137.2,785.0 L140.9,785.5 L144.7,786.0 L148.5,786.3 L152.2,786.4 L156.0,786.5 L159.8,786.4 L163.5,786.3 L167.3,786.0 L171.1,785.5 L174.8,785.0 L178.6,784.3 L182.4,783.4 L186.1,782.4 L189.9,781.2 L193.7,779.8 L197.4,778.0 L201.2,775.9 L205.0,773.2 L208.7,769.5 L212.5,760.0 L212.3,766.0 L208.6,776.8 L204.8,781.0 L201.1,784.0 L197.3,786.4 L193.6,788.4 L189.8,790.0 L186.0,791.4 L182.3,792.5 L178.5,793.5 L174.8,794.3 L171.0,794.9 L167.3,795.4 L163.5,795.7 L159.7,795.9 L156.0,796.0 L152.2,795.9 L148.5,795.7 L144.7,795.4 L141.0,794.9 L137.2,794.3 L133.5,793.5 L129.7,792.5 L125.9,791.4 L122.2,790.0 L118.4,788.4 L114.7,786.4 L110.9,784.0 L107.2,781.0 L103.4,776.8 L99.6,766.0 Z" fill="url(#sglass)"/>
<path d="M107.0,775.6 L110.8,778.3 L114.5,780.4 L118.3,782.1 L122.1,783.6 L125.8,784.8 L129.6,785.8 L133.4,786.7 L137.2,787.4 L140.9,787.9 L144.7,788.3 L148.5,788.6 L152.2,788.8 L156.0,788.9 L159.8,788.8 L163.5,788.6 L167.3,788.3 L171.1,787.9 L174.8,787.4 L178.6,786.7 L182.4,785.8 L186.1,784.8 L189.9,783.6 L193.7,782.1 L197.4,780.4 L201.2,778.3 L205.0,775.6 L208.7,771.9 L208.6,776.8 L204.8,781.0 L201.1,784.0 L197.3,786.4 L193.6,788.4 L189.8,790.0 L186.0,791.4 L182.3,792.5 L178.5,793.5 L174.8,794.3 L171.0,794.9 L167.3,795.4 L163.5,795.7 L159.7,795.9 L156.0,796.0 L152.2,795.9 L148.5,795.7 L144.7,795.4 L141.0,794.9 L137.2,794.3 L133.5,793.5 L129.7,792.5 L125.9,791.4 L122.2,790.0 L118.4,788.4 L114.7,786.4 L110.9,784.0 L107.2,781.0 Z" fill="#d4d4d4"/>
<path d="M99.6,766.0 L103.4,776.8 L107.2,781.0 L110.9,784.0 L114.7,786.4 L118.4,788.4 L122.2,790.0 L125.9,791.4 L129.7,792.5 L133.5,793.5 L137.2,794.3 L141.0,794.9 L144.7,795.4 L148.5,795.7 L152.2,795.9 L156.0,796.0 L159.7,795.9 L163.5,795.7 L167.3,795.4 L171.0,794.9 L174.8,794.3 L178.5,793.5 L182.3,792.5 L186.0,791.4 L189.8,790.0 L193.6,788.4 L197.3,786.4 L201.1,784.0 L204.8,781.0 L208.6,776.8 L212.3,766.0" fill="none" stroke="#9a9a9a" stroke-width="0.9"/>
<path d="M91.3,472.5 L92.3,471.7 L219.6,471.7 L220.6,472.5 L220.2,485.4 L215.9,489.7 L211.7,491.4 L207.4,492.7 L203.1,493.6 L198.8,494.4 L194.5,495.1 L190.2,495.6 L185.9,496.1 L181.7,496.5 L177.4,496.8 L173.1,497.1 L168.8,497.3 L164.5,497.4 L160.2,497.5 L156.0,497.5 L151.7,497.5 L147.4,497.4 L143.1,497.3 L138.8,497.1 L134.5,496.8 L130.2,496.5 L126.0,496.1 L121.7,495.6 L117.4,495.1 L113.1,494.4 L108.8,493.6 L104.5,492.7 L100.2,491.4 L96.0,489.7 L91.7,485.4 Z" fill="#222"/>
<path d="M111.4,473.8 L205.8,473.8 L208.0,489.0 L203.1,490.1 L198.8,490.9 L194.5,491.6 L190.2,492.1 L185.9,492.6 L181.7,493.0 L177.4,493.3 L173.1,493.6 L168.8,493.8 L164.5,493.9 L160.2,494.0 L156.0,494.0 L151.7,494.0 L147.4,493.9 L143.1,493.8 L138.8,493.6 L134.5,493.3 L130.2,493.0 L126.0,492.6 L121.7,492.1 L117.4,491.6 L113.1,490.9 L108.8,490.1 L107.6,489.5 Z" fill="#3c3c3c"/>
<line x1="115" y1="474" x2="115" y2="490.7113780250637" stroke="#464646" stroke-width="1"/>
<line x1="121" y1="474" x2="121" y2="491.5481298903564" stroke="#464646" stroke-width="1"/>
<line x1="127" y1="474" x2="127" y2="492.1960082649355" stroke="#464646" stroke-width="1"/>
<line x1="133" y1="474" x2="133" y2="492.6945323042283" stroke="#464646" stroke-width="1"/>
<line x1="139" y1="474" x2="139" y2="493.0703073768076" stroke="#464646" stroke-width="1"/>
<line x1="145" y1="474" x2="145" y2="493.3161051937368" stroke="#464646" stroke-width="1"/>
<line x1="151" y1="474" x2="151" y2="493.4604504903377" stroke="#464646" stroke-width="1"/>
<line x1="157" y1="474" x2="157" y2="493.4934157763432" stroke="#464646" stroke-width="1"/>
<line x1="163" y1="474" x2="163" y2="493.4207677926688" stroke="#464646" stroke-width="1"/>
<line x1="169" y1="474" x2="169" y2="493.2467762995476" stroke="#464646" stroke-width="1"/>
<line x1="175" y1="474" x2="175" y2="492.9487526491465" stroke="#464646" stroke-width="1"/>
<line x1="181" y1="474" x2="181" y2="492.5388931800327" stroke="#464646" stroke-width="1"/>
<line x1="187" y1="474" x2="187" y2="491.9869133061648" stroke="#464646" stroke-width="1"/>
<line x1="193" y1="474" x2="193" y2="491.2764075649596" stroke="#464646" stroke-width="1"/>
<line x1="199" y1="474" x2="199" y2="490.3818015646498" stroke="#464646" stroke-width="1"/>
<line x1="205" y1="474" x2="205" y2="489.19442670944267" stroke="#464646" stroke-width="1"/>
<ellipse cx="99" cy="478" rx="4.5" ry="1.8" fill="#050505"/><ellipse cx="211.4" cy="478" rx="4.5" ry="1.8" fill="#050505"/>
<path d="M135,593 L178,593 L176,603 Q175,609 168,609 L145,609 Q138,609 137,603 Z" fill="#a8a8a8" stroke="#c8c8c8" stroke-width="1"/>
<rect x="90.8" y="893" width="130.2" height="406.29999999999995" fill="url(#ribf)"/>
<rect x="90.8" y="918.5" width="130.2" height="18.299999999999955" fill="url(#glassH)"/>
<rect x="102.80000000000001" y="918.5" width="1.2" height="18.299999999999955" fill="#6e6e6e"/>
<rect x="110.0" y="918.5" width="1.2" height="18.299999999999955" fill="#6e6e6e"/>
<rect x="200.0" y="918.5" width="1.2" height="18.299999999999955" fill="#6e6e6e"/>
<rect x="208.6" y="918.5" width="1.2" height="18.299999999999955" fill="#6e6e6e"/>
<rect x="90.8" y="957.6" width="130.2" height="17.399999999999977" fill="url(#glassH)"/>
<rect x="102.80000000000001" y="957.6" width="1.2" height="17.399999999999977" fill="#6e6e6e"/>
<rect x="110.0" y="957.6" width="1.2" height="17.399999999999977" fill="#6e6e6e"/>
<rect x="200.0" y="957.6" width="1.2" height="17.399999999999977" fill="#6e6e6e"/>
<rect x="208.6" y="957.6" width="1.2" height="17.399999999999977" fill="#6e6e6e"/>
<rect x="90.8" y="995.6" width="130.2" height="17.699999999999932" fill="url(#glassH)"/>
<rect x="102.80000000000001" y="995.6" width="1.2" height="17.699999999999932" fill="#6e6e6e"/>
<rect x="110.0" y="995.6" width="1.2" height="17.699999999999932" fill="#6e6e6e"/>
<rect x="200.0" y="995.6" width="1.2" height="17.699999999999932" fill="#6e6e6e"/>
<rect x="208.6" y="995.6" width="1.2" height="17.699999999999932" fill="#6e6e6e"/>
<rect x="90.8" y="1179.5" width="130.2" height="17.5" fill="url(#glassH)"/>
<rect x="102.80000000000001" y="1179.5" width="1.2" height="17.5" fill="#6e6e6e"/>
<rect x="110.0" y="1179.5" width="1.2" height="17.5" fill="#6e6e6e"/>
<rect x="200.0" y="1179.5" width="1.2" height="17.5" fill="#6e6e6e"/>
<rect x="208.6" y="1179.5" width="1.2" height="17.5" fill="#6e6e6e"/>
<rect x="90.8" y="1217.3" width="130.2" height="18.200000000000045" fill="url(#glassH)"/>
<rect x="102.80000000000001" y="1217.3" width="1.2" height="18.200000000000045" fill="#6e6e6e"/>
<rect x="110.0" y="1217.3" width="1.2" height="18.200000000000045" fill="#6e6e6e"/>
<rect x="200.0" y="1217.3" width="1.2" height="18.200000000000045" fill="#6e6e6e"/>
<rect x="208.6" y="1217.3" width="1.2" height="18.200000000000045" fill="#6e6e6e"/>
<rect x="90.8" y="1255.8" width="130.2" height="18.0" fill="url(#glassH)"/>
<rect x="102.80000000000001" y="1255.8" width="1.2" height="18.0" fill="#6e6e6e"/>
<rect x="110.0" y="1255.8" width="1.2" height="18.0" fill="#6e6e6e"/>
<rect x="200.0" y="1255.8" width="1.2" height="18.0" fill="#6e6e6e"/>
<rect x="208.6" y="1255.8" width="1.2" height="18.0" fill="#6e6e6e"/>
<path d="M131.7,1013.3 L131.7,1006 Q131.7,1000.3 138,1000.3 L173.5,1000.3 Q179.8,1000.3 179.8,1006 L179.8,1013.3 Z" fill="#b9b9b9" stroke="#8c8c8c" stroke-width="0.8"/>
<path d="M131.7,1179.5 L131.7,1187 Q131.7,1193.3 138,1193.3 L173.5,1193.3 Q179.8,1193.3 179.8,1187 L179.8,1179.5 Z" fill="#b9b9b9" stroke="#8c8c8c" stroke-width="0.8"/>
<rect x="301.5" y="893" width="95.80000000000001" height="406.29999999999995" fill="url(#ribf)"/>
<rect x="301.5" y="918.5" width="95.80000000000001" height="18.299999999999955" fill="url(#glassS)"/>
<rect x="390" y="918.5" width="1.3" height="18.299999999999955" fill="#6a6a6a"/>
<rect x="301.5" y="957.6" width="95.80000000000001" height="17.399999999999977" fill="url(#glassS)"/>
<rect x="390" y="957.6" width="1.3" height="17.399999999999977" fill="#6a6a6a"/>
<rect x="301.5" y="995.6" width="95.80000000000001" height="17.699999999999932" fill="url(#glassS)"/>
<rect x="390" y="995.6" width="1.3" height="17.699999999999932" fill="#6a6a6a"/>
<rect x="301.5" y="1179.5" width="95.80000000000001" height="17.5" fill="url(#glassS)"/>
<rect x="390" y="1179.5" width="1.3" height="17.5" fill="#6a6a6a"/>
<rect x="301.5" y="1217.3" width="95.80000000000001" height="18.200000000000045" fill="url(#glassS)"/>
<rect x="390" y="1217.3" width="1.3" height="18.200000000000045" fill="#6a6a6a"/>
<rect x="301.5" y="1255.8" width="95.80000000000001" height="18.0" fill="url(#glassS)"/>
<rect x="390" y="1255.8" width="1.3" height="18.0" fill="#6a6a6a"/>
<rect x="397.3" y="893" width="23.399999999999977" height="406.69999999999993" fill="#1f1f1f"/>
<line x1="397.3" y1="918.5" x2="420.7" y2="918.5" stroke="#080808" stroke-width="1"/>
<line x1="397.3" y1="936.8" x2="420.7" y2="936.8" stroke="#080808" stroke-width="1"/>
<line x1="397.3" y1="957.6" x2="420.7" y2="957.6" stroke="#080808" stroke-width="1"/>
<line x1="397.3" y1="975" x2="420.7" y2="975" stroke="#080808" stroke-width="1"/>
<line x1="397.3" y1="995.6" x2="420.7" y2="995.6" stroke="#080808" stroke-width="1"/>
<line x1="397.3" y1="1197" x2="420.7" y2="1197" stroke="#080808" stroke-width="1"/>
<line x1="397.3" y1="1217.3" x2="420.7" y2="1217.3" stroke="#080808" stroke-width="1"/>
<line x1="397.3" y1="1235.5" x2="420.7" y2="1235.5" stroke="#080808" stroke-width="1"/>
<line x1="397.3" y1="1255.8" x2="420.7" y2="1255.8" stroke="#080808" stroke-width="1"/>
<line x1="397.3" y1="1273.8" x2="420.7" y2="1273.8" stroke="#080808" stroke-width="1"/>
<line x1="397.3" y1="893" x2="397.3" y2="1299.3" stroke="#080808" stroke-width="1"/>
<path d="M340.8,1013.3 L340.8,1006 Q340.8,1000.4 347,1000.4 L384,1000.4 Q390.3,1000.4 390.3,1006 L390.3,1013.3 Z" fill="#b9b9b9" stroke="#8c8c8c" stroke-width="0.8"/>
<path d="M340.8,1179.5 L340.8,1187 Q340.8,1193.3 347,1193.3 L384,1193.3 Q390.3,1193.3 390.3,1187 L390.3,1179.5 Z" fill="#b9b9b9" stroke="#8c8c8c" stroke-width="0.8"/>
<path d="M420.7,1045.2 L453.5,1047.3 L453.5,1147.5 L420.7,1147 Z" fill="#242424"/>
<rect x="453.5" y="1032.2" width="23.5" height="129.7" fill="#1c1c1c" stroke="#050505" stroke-width="1"/>
<rect x="556.1" y="1032" width="129.69999999999993" height="178" fill="url(#hatch)" stroke="#111" stroke-width="1.5"/>
<rect x="562.1" y="1038" width="117.69999999999993" height="166" fill="#fdfdfd" stroke="#111" stroke-width="1.4"/>
<rect x="602" y="1032" width="38.3" height="6" fill="#fdfdfd" stroke="#111" stroke-width="1.2"/>
<rect x="609.4" y="1204" width="23.4" height="6" fill="#fdfdfd" stroke="#111" stroke-width="1.2"/>
<rect x="562.1" y="1087.8" width="117.69999999999993" height="5.7000000000000455" fill="url(#hatch)" stroke="#111" stroke-width="1.5"/>
<rect x="600.4" y="1082.6" width="10.600000000000023" height="10.900000000000091" fill="url(#hatch)" stroke="#111" stroke-width="1.5"/>
<rect x="631" y="1082.6" width="11" height="10.900000000000091" fill="url(#hatch)" stroke="#111" stroke-width="1.5"/>
<rect x="611" y="1082.6" width="20" height="10.9" fill="#fff" stroke="#222" stroke-width="1.1"/>
<rect x="597.8" y="1093.5" width="12.5" height="110.5" fill="url(#hatch2)" stroke="#111" stroke-width="1.5"/>
<rect x="631.7" y="1093.5" width="12.5" height="110.5" fill="url(#hatch2)" stroke="#111" stroke-width="1.5"/>
<path d="M562.1,1105 Q562.1,1110.4 567.1,1110.4 L572.6,1110.4 A10,10 0 0 1 572.6,1130.4 L567.1,1130.4 Q562.1,1130.4 562.1,1136 Z" fill="url(#hatch)" stroke="#111" stroke-width="1.5"/>
<rect x="560.9" y="1105.5" width="2.7" height="30" fill="url(#hatch)"/>
<circle cx="572.6" cy="1120.4" r="4.2" fill="#fff" stroke="#111" stroke-width="1.4"/>
<path d="M679.8,1105 Q679.8,1110.4 674.8,1110.4 L668.9,1110.4 A10,10 0 0 0 668.9,1130.4 L674.8,1130.4 Q679.8,1130.4 679.8,1136 Z" fill="url(#hatch)" stroke="#111" stroke-width="1.5"/>
<rect x="678.3" y="1105.5" width="2.7" height="30" fill="url(#hatch)"/>
<circle cx="668.9" cy="1120.4" r="4.2" fill="#fff" stroke="#111" stroke-width="1.4"/>
<text x="37.5" y="63.4" font-size="27.5" font-weight="400" text-anchor="start" fill="#111" textLength="499" lengthAdjust="spacingAndGlyphs" stroke="#111" stroke-width="0.75">TECHNICAL DATA SHEET - GD-WP37-2-3C</text>
<text x="37.5" y="95.2" font-size="27.5" font-weight="400" text-anchor="start" fill="#111" textLength="276.5" lengthAdjust="spacingAndGlyphs" stroke="#111" stroke-width="0.75">OUTDOOR WALL LIGHT</text>
<rect x="37" y="122.3" width="369.6" height="313.9" fill="none" stroke="#3a3a3a" stroke-width="1.4"/>
<line x1="37" y1="150.7" x2="406.6" y2="150.7" stroke="#3a3a3a" stroke-width="1.3"/>
<line x1="37" y1="177.4" x2="406.6" y2="177.4" stroke="#3a3a3a" stroke-width="1.3"/>
<line x1="37" y1="204.3" x2="406.6" y2="204.3" stroke="#3a3a3a" stroke-width="1.3"/>
<line x1="37" y1="230.5" x2="406.6" y2="230.5" stroke="#3a3a3a" stroke-width="1.3"/>
<line x1="37" y1="257" x2="406.6" y2="257" stroke="#3a3a3a" stroke-width="1.3"/>
<line x1="37" y1="303.5" x2="406.6" y2="303.5" stroke="#3a3a3a" stroke-width="1.3"/>
<line x1="37" y1="330.6" x2="406.6" y2="330.6" stroke="#3a3a3a" stroke-width="1.3"/>
<line x1="37" y1="355" x2="406.6" y2="355" stroke="#3a3a3a" stroke-width="1.3"/>
<line x1="37" y1="379.4" x2="406.6" y2="379.4" stroke="#3a3a3a" stroke-width="1.3"/>
<line x1="37" y1="404.4" x2="406.6" y2="404.4" stroke="#3a3a3a" stroke-width="1.3"/>
<line x1="150.2" y1="122.3" x2="150.2" y2="436.2" stroke="#3a3a3a" stroke-width="1.3"/>
<text x="45.7" y="143.4" font-size="16.3" font-weight="700" text-anchor="start" fill="#111" textLength="97.8" lengthAdjust="spacingAndGlyphs">Product Code:</text>
<text x="45.7" y="169.7" font-size="16.3" font-weight="700" text-anchor="start" fill="#111" textLength="95" lengthAdjust="spacingAndGlyphs">Product Type:</text>
<text x="45.7" y="196.5" font-size="16.3" font-weight="700" text-anchor="start" fill="#111" textLength="85.1" lengthAdjust="spacingAndGlyphs">Dimensions:</text>
<text x="45.7" y="223" font-size="16.3" font-weight="700" text-anchor="start" fill="#111" textLength="86.3" lengthAdjust="spacingAndGlyphs">Lampholder:</text>
<text x="45.7" y="249.7" font-size="16.3" font-weight="700" text-anchor="start" fill="#111" textLength="80.6" lengthAdjust="spacingAndGlyphs">Max Power:</text>
<text x="45.7" y="276.1" font-size="16.3" font-weight="700" text-anchor="start" fill="#111" textLength="96.3" lengthAdjust="spacingAndGlyphs">Input Voltage:</text>
<text x="45.7" y="323" font-size="16.3" font-weight="700" text-anchor="start" fill="#111" textLength="60.9" lengthAdjust="spacingAndGlyphs">Material:</text>
<text x="45.7" y="348" font-size="16.3" font-weight="700" text-anchor="start" fill="#111" textLength="40.6" lengthAdjust="spacingAndGlyphs">Color:</text>
<text x="45.7" y="372.2" font-size="16.3" font-weight="700" text-anchor="start" fill="#111" textLength="66.5" lengthAdjust="spacingAndGlyphs">IP Rating:</text>
<text x="45.7" y="397.2" font-size="16.3" font-weight="700" text-anchor="start" fill="#111" textLength="66.5" lengthAdjust="spacingAndGlyphs">IK Rating:</text>
<text x="45.7" y="423" font-size="16.3" font-weight="700" text-anchor="start" fill="#111" textLength="84.8" lengthAdjust="spacingAndGlyphs">Certificates:</text>
<text x="156.1" y="143.2" font-size="16.3" font-weight="400" text-anchor="start" fill="#111" textLength="101.4" lengthAdjust="spacingAndGlyphs" stroke="#111" stroke-width="0.2">GD-WP37-2-3C</text>
<text x="156.1" y="169.7" font-size="16.3" font-weight="400" text-anchor="start" fill="#111" textLength="204.5" lengthAdjust="spacingAndGlyphs" stroke="#111" stroke-width="0.2">Up &amp; Down Outdoor Wall Light</text>
<text x="156.1" y="196.3" font-size="16.3" font-weight="400" text-anchor="start" fill="#111" textLength="136.1" lengthAdjust="spacingAndGlyphs" stroke="#111" stroke-width="0.2">110 * 140 * 355 mm</text>
<text x="156.1" y="223" font-size="16.3" font-weight="400" text-anchor="start" fill="#111" textLength="234.9" lengthAdjust="spacingAndGlyphs" stroke="#111" stroke-width="0.2">2 x E27 (LED bulbs recommended)</text>
<text x="156.1" y="249.7" font-size="16.3" font-weight="400" text-anchor="start" fill="#111" textLength="112.4" lengthAdjust="spacingAndGlyphs" stroke="#111" stroke-width="0.2">MAX 20W (total)</text>
<text x="156.1" y="276.1" font-size="16.3" font-weight="400" text-anchor="start" fill="#111" textLength="238.3" lengthAdjust="spacingAndGlyphs" stroke="#111" stroke-width="0.2">[Typical voltage, e.g., 220-240V AC]</text>
<text x="156.1" y="295.4" font-size="16.3" font-weight="400" text-anchor="start" fill="#111" textLength="180.1" lengthAdjust="spacingAndGlyphs" stroke="#111" stroke-width="0.2">(optional but professional)</text>
<text x="156.1" y="323.3" font-size="16.3" font-weight="400" text-anchor="start" fill="#111" textLength="216.6" lengthAdjust="spacingAndGlyphs" stroke="#111" stroke-width="0.2">Aluminium Alloy + Ribbed Glass</text>
<text x="156.1" y="347.9" font-size="16.3" font-weight="400" text-anchor="start" fill="#111" textLength="100.5" lengthAdjust="spacingAndGlyphs" stroke="#111" stroke-width="0.2">Textured Black</text>
<text x="156.1" y="372.2" font-size="16.3" font-weight="400" text-anchor="start" fill="#111" textLength="30.5" lengthAdjust="spacingAndGlyphs" stroke="#111" stroke-width="0.2">IP44</text>
<text x="156.1" y="397" font-size="16.3" font-weight="400" text-anchor="start" fill="#111" textLength="30.5" lengthAdjust="spacingAndGlyphs" stroke="#111" stroke-width="0.2">IK04</text>
<text x="156.1" y="421.8" font-size="16.3" font-weight="400" text-anchor="start" fill="#111" textLength="211.2" lengthAdjust="spacingAndGlyphs" stroke="#111" stroke-width="0.2">[CE, RoHS logos, if appropriate]</text>
<text x="584.6" y="140.3" font-size="18.3" font-weight="400" text-anchor="start" fill="#111" textLength="124.2" lengthAdjust="spacingAndGlyphs" stroke="#111" stroke-width="0.25">Segmented Black</text>
<text x="618.4" y="158.3" font-size="18.3" font-weight="400" text-anchor="start" fill="#111" textLength="57.3" lengthAdjust="spacingAndGlyphs" stroke="#111" stroke-width="0.25">Top Cap</text>
<path d="M596.0,146.2 L580.0,146.2 L531.7,192.6" fill="none" stroke="#111" stroke-width="1.3"/>
<text x="314.7" y="485.3" font-size="18.3" font-weight="400" text-anchor="start" fill="#111" textLength="84.6" lengthAdjust="spacingAndGlyphs" stroke="#111" stroke-width="0.25">Upward E27</text>
<text x="314.7" y="503.3" font-size="18.3" font-weight="400" text-anchor="start" fill="#111" textLength="84.6" lengthAdjust="spacingAndGlyphs" stroke="#111" stroke-width="0.25">Lampholder</text>
<path d="M405.4,481.2 L419.0,481.2 L508.7,401.7" fill="none" stroke="#111" stroke-width="1.3"/>
<text x="311.3" y="598.5" font-size="18.3" font-weight="400" text-anchor="start" fill="#111" textLength="91.7" lengthAdjust="spacingAndGlyphs" stroke="#111" stroke-width="0.25">Ribbed Glass</text>
<text x="347.2" y="616.5" font-size="18.3" font-weight="400" text-anchor="start" fill="#111" textLength="55.8" lengthAdjust="spacingAndGlyphs" stroke="#111" stroke-width="0.25">Diffuser</text>
<text x="278.5" y="634.4" font-size="18.3" font-weight="400" text-anchor="start" fill="#111" textLength="144.5" lengthAdjust="spacingAndGlyphs" stroke="#111" stroke-width="0.25">Textured Black Body</text>
<path d="M408.0,593.8 L419.0,593.8 L486.7,532.9" fill="none" stroke="#111" stroke-width="1.3"/>
<path d="M428.4,629.0 L435.9,629.0 L471.4,596.2" fill="none" stroke="#111" stroke-width="1.3"/>
<text x="303.9" y="743.3" font-size="18.3" font-weight="400" text-anchor="start" fill="#111" textLength="104.9" lengthAdjust="spacingAndGlyphs" stroke="#111" stroke-width="0.25">Downward E27</text>
<text x="315.7" y="760.9" font-size="18.3" font-weight="400" text-anchor="start" fill="#111" textLength="82.9" lengthAdjust="spacingAndGlyphs" stroke="#111" stroke-width="0.25">Lampholder</text>
<path d="M412.9,738.2 L419.0,738.2 L518.8,648.5" fill="none" stroke="#111" stroke-width="1.3"/>
<line x1="709.2" y1="198.9" x2="725.8" y2="198.9" stroke="#333" stroke-width="1.6"/>
<line x1="717.6" y1="207" x2="717.6" y2="803" stroke="#111" stroke-width="1.4"/>
<path d="M717.6,198.9 L720.9,208.9 L714.4,208.9 Z" fill="#111"/>
<path d="M717.6,810.6 L714.4,800.6 L720.9,800.6 Z" fill="#111"/>
<line x1="708.4" y1="812" x2="725.8" y2="812" stroke="#333" stroke-width="1.6"/>
<text x="0" y="0" font-size="18.3" font-weight="400" text-anchor="start" fill="#111" textLength="106.3" lengthAdjust="spacingAndGlyphs" transform="translate(738.8,554.8) rotate(-90)" stroke="#111" stroke-width="0.25">Overall Height</text>
<line x1="573" y1="893.2" x2="715.7" y2="817.4" stroke="#111" stroke-width="1.3"/>
<path d="M715.7,817.4 L708.3,824.7 L705.5,819.4 Z" fill="#111"/>
<path d="M573.0,893.2 L580.4,885.9 L583.2,891.2 Z" fill="#111"/>
<line x1="708.4" y1="810.6" x2="723.9" y2="821" stroke="#111" stroke-width="1.3"/>
<line x1="566" y1="891.3" x2="580.3" y2="899.5" stroke="#111" stroke-width="1.3"/>
<text x="0" y="0" font-size="18.3" font-weight="400" text-anchor="start" fill="#111" textLength="148" lengthAdjust="spacingAndGlyphs" transform="translate(591,908) rotate(-27.98)" stroke="#111" stroke-width="0.25">Projection from Wall</text>
<text x="0" y="0" font-size="18.3" font-weight="400" text-anchor="start" fill="#111" textLength="54.5" lengthAdjust="spacingAndGlyphs" transform="translate(640,901) rotate(-27.98)" stroke="#111" stroke-width="0.25">140mm</text>
<text x="104.6" y="850.3" font-size="18" font-weight="400" text-anchor="start" fill="#111" textLength="102.1" lengthAdjust="spacingAndGlyphs" stroke="#111" stroke-width="0.25">Body Diameter</text>
<text x="129.8" y="867.8" font-size="18" font-weight="400" text-anchor="start" fill="#111" textLength="52.9" lengthAdjust="spacingAndGlyphs" stroke="#111" stroke-width="0.25">110mm</text>
<line x1="90.8" y1="863.3" x2="90.8" y2="886" stroke="#111" stroke-width="1.3"/>
<line x1="221" y1="863.3" x2="221" y2="886" stroke="#111" stroke-width="1.3"/>
<line x1="100" y1="873" x2="212" y2="873" stroke="#111" stroke-width="1.3"/>
<path d="M90.8,873.0 L100.8,870.0 L100.8,876.0 Z" fill="#111"/>
<path d="M221.0,873.0 L211.0,876.0 L211.0,870.0 Z" fill="#111"/>
<line x1="57.7" y1="893" x2="81.7" y2="893" stroke="#111" stroke-width="1.3"/>
<line x1="56" y1="1299.3" x2="82" y2="1299.3" stroke="#111" stroke-width="1.3"/>
<line x1="65.3" y1="902" x2="65.3" y2="1290" stroke="#111" stroke-width="1.3"/>
<path d="M65.3,893.0 L68.3,903.0 L62.3,903.0 Z" fill="#111"/>
<path d="M65.3,1299.3 L62.3,1289.3 L68.3,1289.3 Z" fill="#111"/>
<text x="0" y="0" font-size="18" font-weight="400" text-anchor="start" fill="#111" textLength="53.4" lengthAdjust="spacingAndGlyphs" transform="translate(58.75,1125.8) rotate(-90)" stroke="#111" stroke-width="0.25">355mm</text>
<line x1="90.8" y1="1305.8" x2="90.8" y2="1329.3" stroke="#111" stroke-width="1.3"/>
<line x1="221" y1="1305.8" x2="221" y2="1329.3" stroke="#111" stroke-width="1.3"/>
<line x1="100" y1="1320" x2="212" y2="1320" stroke="#111" stroke-width="1.3"/>
<path d="M90.8,1320.0 L100.8,1317.0 L100.8,1323.0 Z" fill="#111"/>
<path d="M221.0,1320.0 L211.0,1323.0 L211.0,1317.0 Z" fill="#111"/>
<text x="105" y="1338.4" font-size="18" font-weight="400" text-anchor="start" fill="#111" textLength="101.7" lengthAdjust="spacingAndGlyphs" stroke="#111" stroke-width="0.25">Body Diameter</text>
<text x="129.8" y="1355.8" font-size="18" font-weight="400" text-anchor="start" fill="#111" textLength="52.9" lengthAdjust="spacingAndGlyphs" stroke="#111" stroke-width="0.25">110mm</text>
<text x="346" y="850.3" font-size="18" font-weight="400" text-anchor="start" fill="#111" textLength="86" lengthAdjust="spacingAndGlyphs" stroke="#111" stroke-width="0.25">Oveall Hight</text>
<text x="362.4" y="867.8" font-size="18" font-weight="400" text-anchor="start" fill="#111" textLength="52.6" lengthAdjust="spacingAndGlyphs" stroke="#111" stroke-width="0.25">140mm</text>
<line x1="301.5" y1="863.3" x2="301.5" y2="886" stroke="#111" stroke-width="1.3"/>
<line x1="476.3" y1="863.3" x2="476.3" y2="1025" stroke="#111" stroke-width="1.3"/>
<line x1="310" y1="873" x2="467" y2="873" stroke="#111" stroke-width="1.3"/>
<path d="M301.5,873.0 L311.5,870.0 L311.5,876.0 Z" fill="#111"/>
<path d="M476.3,873.0 L466.3,876.0 L466.3,870.0 Z" fill="#111"/>
<line x1="301.5" y1="1305.4" x2="301.5" y2="1329" stroke="#111" stroke-width="1.3"/>
<line x1="476.5" y1="1175.7" x2="476.5" y2="1329.4" stroke="#111" stroke-width="1.3"/>
<line x1="310" y1="1320.3" x2="467" y2="1320.3" stroke="#111" stroke-width="1.3"/>
<path d="M301.5,1320.3 L311.5,1317.3 L311.5,1323.3 Z" fill="#111"/>
<path d="M476.5,1320.3 L466.5,1323.3 L466.5,1317.3 Z" fill="#111"/>
<text x="320" y="1338.75" font-size="18" font-weight="400" text-anchor="start" fill="#111" textLength="142.4" lengthAdjust="spacingAndGlyphs" stroke="#111" stroke-width="0.25">Projection from Wall</text>
<text x="365.5" y="1356.2" font-size="18" font-weight="400" text-anchor="start" fill="#111" textLength="52.1" lengthAdjust="spacingAndGlyphs" stroke="#111" stroke-width="0.25">140mm</text>
<path d="M469.7,1158.0 L532.8,1257.5 L565.6,1257.5" fill="none" stroke="#111" stroke-width="1.3"/>
<text x="571.25" y="1263.75" font-size="18" font-weight="400" text-anchor="start" fill="#111" textLength="105.35" lengthAdjust="spacingAndGlyphs" stroke="#111" stroke-width="0.25">Mounting Base</text>
<text x="567.2" y="1281" font-size="18" font-weight="400" text-anchor="start" fill="#111" textLength="113.4" lengthAdjust="spacingAndGlyphs" stroke="#111" stroke-width="0.25">with Cable Entry</text>
<text x="599.4" y="1004" font-size="18" font-weight="400" text-anchor="start" fill="#111" textLength="43.5" lengthAdjust="spacingAndGlyphs" stroke="#111" stroke-width="0.25">90mm</text>
<line x1="556.1" y1="1000.8" x2="556.1" y2="1023" stroke="#111" stroke-width="1.3"/>
<line x1="685.8" y1="1000.8" x2="685.8" y2="1023" stroke="#111" stroke-width="1.3"/>
<line x1="565" y1="1010.7" x2="677" y2="1010.7" stroke="#111" stroke-width="1.3"/>
<path d="M556.1,1010.7 L566.1,1007.7 L566.1,1013.7 Z" fill="#111"/>
<path d="M685.8,1010.7 L675.8,1013.7 L675.8,1007.7 Z" fill="#111"/>
<line x1="694" y1="1032" x2="717" y2="1032" stroke="#111" stroke-width="1.3"/>
<line x1="694.4" y1="1209.4" x2="718" y2="1209.4" stroke="#111" stroke-width="1.3"/>
<line x1="708.75" y1="1041" x2="708.75" y2="1200" stroke="#111" stroke-width="1.3"/>
<path d="M708.8,1032.0 L711.8,1042.0 L705.8,1042.0 Z" fill="#111"/>
<path d="M708.8,1209.4 L705.8,1199.4 L711.8,1199.4 Z" fill="#111"/>
<text x="0" y="0" font-size="18" font-weight="400" text-anchor="start" fill="#111" textLength="52.1" lengthAdjust="spacingAndGlyphs" transform="translate(728.8,1146.4) rotate(-90)" stroke="#111" stroke-width="0.25">130mm</text>
<line x1="621" y1="1210" x2="621" y2="1243.75" stroke="#111" stroke-width="1.3"/>
</svg></body></html>
